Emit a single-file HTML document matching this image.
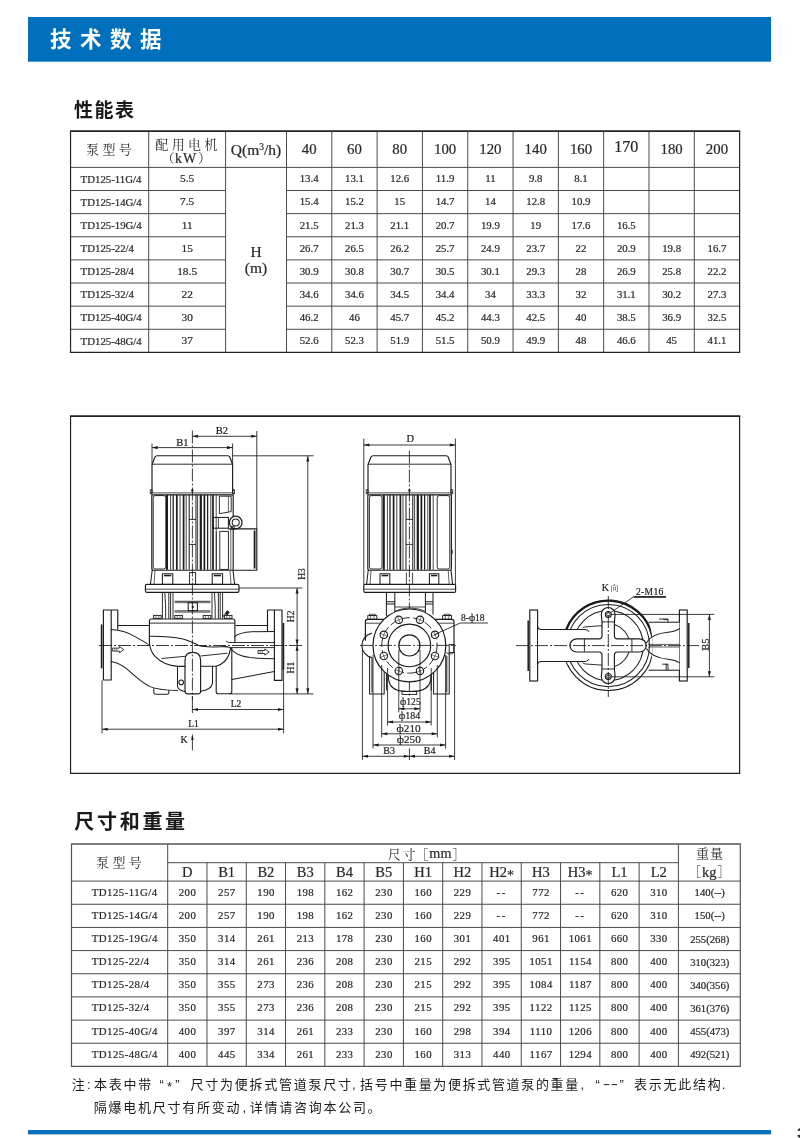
<!DOCTYPE html>
<html lang="zh"><head><meta charset="utf-8"><title>技术数据</title>
<style>
html,body{margin:0;padding:0;background:#fff;}
body{width:800px;height:1138px;overflow:hidden;font-family:"Liberation Serif","Noto Serif CJK SC",serif;}
svg{display:block;will-change:transform;}
</style></head><body>
<svg width="800" height="1138" viewBox="0 0 800 1138">
<rect width="800" height="1138" fill="#fff"/>
<rect x="28" y="17" width="743" height="44.7" fill="#0070bd"/>
<text x="50.00" y="47.20" font-size="21.50" text-anchor="start" fill="#fff" font-family="'Liberation Sans', 'Noto Sans CJK SC', sans-serif" font-weight="bold" letter-spacing="8.5">技术数据</text>
<rect x="28" y="1130" width="743" height="4.4" fill="#0a6fbc"/>
<text x="797.30" y="1137.60" font-size="15.00" text-anchor="start" fill="#222" stroke="#222" stroke-width="0.22" font-family="'Liberation Sans', serif" font-weight="bold">3</text>
<text x="74.00" y="117.00" font-size="19.00" text-anchor="start" fill="#1a1a1a" font-family="'Liberation Sans', 'Noto Sans CJK SC', sans-serif" font-weight="bold" letter-spacing="1.5">性能表</text>
<text x="74.30" y="829.00" font-size="20.00" text-anchor="start" fill="#1a1a1a" font-family="'Liberation Sans', 'Noto Sans CJK SC', sans-serif" font-weight="bold" letter-spacing="2.7">尺寸和重量</text>
<line x1="70.55" y1="167.40" x2="739.60" y2="167.40" stroke="#4a4a4a" stroke-width="1.00"/>
<line x1="70.55" y1="190.53" x2="225.60" y2="190.53" stroke="#4a4a4a" stroke-width="1.00"/>
<line x1="286.50" y1="190.53" x2="739.60" y2="190.53" stroke="#4a4a4a" stroke-width="1.00"/>
<line x1="70.55" y1="213.65" x2="225.60" y2="213.65" stroke="#4a4a4a" stroke-width="1.00"/>
<line x1="286.50" y1="213.65" x2="739.60" y2="213.65" stroke="#4a4a4a" stroke-width="1.00"/>
<line x1="70.55" y1="236.78" x2="225.60" y2="236.78" stroke="#4a4a4a" stroke-width="1.00"/>
<line x1="286.50" y1="236.78" x2="739.60" y2="236.78" stroke="#4a4a4a" stroke-width="1.00"/>
<line x1="70.55" y1="259.90" x2="225.60" y2="259.90" stroke="#4a4a4a" stroke-width="1.00"/>
<line x1="286.50" y1="259.90" x2="739.60" y2="259.90" stroke="#4a4a4a" stroke-width="1.00"/>
<line x1="70.55" y1="283.02" x2="225.60" y2="283.02" stroke="#4a4a4a" stroke-width="1.00"/>
<line x1="286.50" y1="283.02" x2="739.60" y2="283.02" stroke="#4a4a4a" stroke-width="1.00"/>
<line x1="70.55" y1="306.15" x2="225.60" y2="306.15" stroke="#4a4a4a" stroke-width="1.00"/>
<line x1="286.50" y1="306.15" x2="739.60" y2="306.15" stroke="#4a4a4a" stroke-width="1.00"/>
<line x1="70.55" y1="329.27" x2="225.60" y2="329.27" stroke="#4a4a4a" stroke-width="1.00"/>
<line x1="286.50" y1="329.27" x2="739.60" y2="329.27" stroke="#4a4a4a" stroke-width="1.00"/>
<line x1="148.70" y1="131.10" x2="148.70" y2="352.40" stroke="#4a4a4a" stroke-width="1.00"/>
<line x1="225.60" y1="131.10" x2="225.60" y2="352.40" stroke="#4a4a4a" stroke-width="1.00"/>
<line x1="286.50" y1="131.10" x2="286.50" y2="352.40" stroke="#4a4a4a" stroke-width="1.00"/>
<line x1="331.81" y1="131.10" x2="331.81" y2="352.40" stroke="#4a4a4a" stroke-width="1.00"/>
<line x1="377.12" y1="131.10" x2="377.12" y2="352.40" stroke="#4a4a4a" stroke-width="1.00"/>
<line x1="422.43" y1="131.10" x2="422.43" y2="352.40" stroke="#4a4a4a" stroke-width="1.00"/>
<line x1="467.74" y1="131.10" x2="467.74" y2="352.40" stroke="#4a4a4a" stroke-width="1.00"/>
<line x1="513.05" y1="131.10" x2="513.05" y2="352.40" stroke="#4a4a4a" stroke-width="1.00"/>
<line x1="558.36" y1="131.10" x2="558.36" y2="352.40" stroke="#4a4a4a" stroke-width="1.00"/>
<line x1="603.67" y1="131.10" x2="603.67" y2="352.40" stroke="#4a4a4a" stroke-width="1.00"/>
<line x1="648.98" y1="131.10" x2="648.98" y2="352.40" stroke="#4a4a4a" stroke-width="1.00"/>
<line x1="694.29" y1="131.10" x2="694.29" y2="352.40" stroke="#4a4a4a" stroke-width="1.00"/>
<line x1="69.95" y1="131.10" x2="740.20" y2="131.10" stroke="#262626" stroke-width="1.60"/>
<line x1="69.95" y1="352.40" x2="740.20" y2="352.40" stroke="#262626" stroke-width="1.25"/>
<line x1="70.55" y1="131.10" x2="70.55" y2="352.40" stroke="#262626" stroke-width="1.20"/>
<line x1="739.60" y1="131.10" x2="739.60" y2="352.40" stroke="#262626" stroke-width="1.20"/>
<text x="86.00" y="154.30" font-size="13.00" text-anchor="start" fill="#2a2a2a" font-family="'Liberation Serif', 'Noto Serif CJK SC', serif" letter-spacing="3.4">泵型号</text>
<text x="155.30" y="148.70" font-size="13.00" text-anchor="start" fill="#2a2a2a" font-family="'Liberation Serif', 'Noto Serif CJK SC', serif" letter-spacing="3.4">配用电机</text>
<text x="174.50" y="162.60" font-size="13.00" text-anchor="end" fill="#2a2a2a" font-family="'Liberation Serif', 'Noto Serif CJK SC', serif">（</text>
<text x="198.00" y="162.60" font-size="13.00" text-anchor="start" fill="#2a2a2a" font-family="'Liberation Serif', 'Noto Serif CJK SC', serif">）</text>
<text x="186.20" y="163.30" font-size="14.00" text-anchor="middle" fill="#2a2a2a" stroke="#2a2a2a" stroke-width="0.22" font-family="'Liberation Serif', serif" letter-spacing="1.2">kW</text>
<text x="256.05" y="154.60" font-size="15.5" text-anchor="middle" fill="#2a2a2a" stroke="#2a2a2a" stroke-width="0.22" font-family="'Liberation Serif', serif">Q(m<tspan font-size="9.5" dy="-5">3</tspan><tspan dy="5">/h)</tspan></text>
<text x="309.15" y="153.88" font-size="14.80" text-anchor="middle" fill="#2a2a2a" stroke="#2a2a2a" stroke-width="0.22" font-family="'Liberation Serif', serif">40</text>
<text x="354.47" y="153.88" font-size="14.80" text-anchor="middle" fill="#2a2a2a" stroke="#2a2a2a" stroke-width="0.22" font-family="'Liberation Serif', serif">60</text>
<text x="399.77" y="153.88" font-size="14.80" text-anchor="middle" fill="#2a2a2a" stroke="#2a2a2a" stroke-width="0.22" font-family="'Liberation Serif', serif">80</text>
<text x="445.09" y="153.88" font-size="14.80" text-anchor="middle" fill="#2a2a2a" stroke="#2a2a2a" stroke-width="0.22" font-family="'Liberation Serif', serif">100</text>
<text x="490.39" y="153.88" font-size="14.80" text-anchor="middle" fill="#2a2a2a" stroke="#2a2a2a" stroke-width="0.22" font-family="'Liberation Serif', serif">120</text>
<text x="535.70" y="153.88" font-size="14.80" text-anchor="middle" fill="#2a2a2a" stroke="#2a2a2a" stroke-width="0.22" font-family="'Liberation Serif', serif">140</text>
<text x="581.02" y="153.88" font-size="14.80" text-anchor="middle" fill="#2a2a2a" stroke="#2a2a2a" stroke-width="0.22" font-family="'Liberation Serif', serif">160</text>
<text x="626.33" y="151.88" font-size="16.00" text-anchor="middle" fill="#2a2a2a" stroke="#2a2a2a" stroke-width="0.22" font-family="'Liberation Serif', serif">170</text>
<text x="671.63" y="153.88" font-size="14.80" text-anchor="middle" fill="#2a2a2a" stroke="#2a2a2a" stroke-width="0.22" font-family="'Liberation Serif', serif">180</text>
<text x="716.94" y="153.88" font-size="14.80" text-anchor="middle" fill="#2a2a2a" stroke="#2a2a2a" stroke-width="0.22" font-family="'Liberation Serif', serif">200</text>
<text x="256.05" y="257.31" font-size="15.50" text-anchor="middle" fill="#2a2a2a" stroke="#2a2a2a" stroke-width="0.22" font-family="'Liberation Serif', serif">H</text>
<text x="256.05" y="272.72" font-size="15.50" text-anchor="middle" fill="#2a2a2a" stroke="#2a2a2a" stroke-width="0.22" font-family="'Liberation Serif', serif">(m)</text>
<text x="80.60" y="182.73" font-size="10.80" text-anchor="start" fill="#2a2a2a" stroke="#2a2a2a" stroke-width="0.22" font-family="'Liberation Serif', serif">TD125-11G/4</text>
<text x="187.15" y="182.32" font-size="11.40" text-anchor="middle" fill="#2a2a2a" stroke="#2a2a2a" stroke-width="0.22" font-family="'Liberation Serif', serif">5.5</text>
<text x="309.15" y="182.33" font-size="10.80" text-anchor="middle" fill="#2a2a2a" stroke="#2a2a2a" stroke-width="0.22" font-family="'Liberation Serif', serif">13.4</text>
<text x="354.47" y="182.33" font-size="10.80" text-anchor="middle" fill="#2a2a2a" stroke="#2a2a2a" stroke-width="0.22" font-family="'Liberation Serif', serif">13.1</text>
<text x="399.77" y="182.33" font-size="10.80" text-anchor="middle" fill="#2a2a2a" stroke="#2a2a2a" stroke-width="0.22" font-family="'Liberation Serif', serif">12.6</text>
<text x="445.09" y="182.33" font-size="10.80" text-anchor="middle" fill="#2a2a2a" stroke="#2a2a2a" stroke-width="0.22" font-family="'Liberation Serif', serif">11.9</text>
<text x="490.39" y="182.33" font-size="10.80" text-anchor="middle" fill="#2a2a2a" stroke="#2a2a2a" stroke-width="0.22" font-family="'Liberation Serif', serif">11</text>
<text x="535.70" y="182.33" font-size="10.80" text-anchor="middle" fill="#2a2a2a" stroke="#2a2a2a" stroke-width="0.22" font-family="'Liberation Serif', serif">9.8</text>
<text x="581.02" y="182.33" font-size="10.80" text-anchor="middle" fill="#2a2a2a" stroke="#2a2a2a" stroke-width="0.22" font-family="'Liberation Serif', serif">8.1</text>
<text x="80.60" y="205.85" font-size="10.80" text-anchor="start" fill="#2a2a2a" stroke="#2a2a2a" stroke-width="0.22" font-family="'Liberation Serif', serif">TD125-14G/4</text>
<text x="187.15" y="205.45" font-size="11.40" text-anchor="middle" fill="#2a2a2a" stroke="#2a2a2a" stroke-width="0.22" font-family="'Liberation Serif', serif">7.5</text>
<text x="309.15" y="205.45" font-size="10.80" text-anchor="middle" fill="#2a2a2a" stroke="#2a2a2a" stroke-width="0.22" font-family="'Liberation Serif', serif">15.4</text>
<text x="354.47" y="205.45" font-size="10.80" text-anchor="middle" fill="#2a2a2a" stroke="#2a2a2a" stroke-width="0.22" font-family="'Liberation Serif', serif">15.2</text>
<text x="399.77" y="205.45" font-size="10.80" text-anchor="middle" fill="#2a2a2a" stroke="#2a2a2a" stroke-width="0.22" font-family="'Liberation Serif', serif">15</text>
<text x="445.09" y="205.45" font-size="10.80" text-anchor="middle" fill="#2a2a2a" stroke="#2a2a2a" stroke-width="0.22" font-family="'Liberation Serif', serif">14.7</text>
<text x="490.39" y="205.45" font-size="10.80" text-anchor="middle" fill="#2a2a2a" stroke="#2a2a2a" stroke-width="0.22" font-family="'Liberation Serif', serif">14</text>
<text x="535.70" y="205.45" font-size="10.80" text-anchor="middle" fill="#2a2a2a" stroke="#2a2a2a" stroke-width="0.22" font-family="'Liberation Serif', serif">12.8</text>
<text x="581.02" y="205.45" font-size="10.80" text-anchor="middle" fill="#2a2a2a" stroke="#2a2a2a" stroke-width="0.22" font-family="'Liberation Serif', serif">10.9</text>
<text x="80.60" y="228.98" font-size="10.80" text-anchor="start" fill="#2a2a2a" stroke="#2a2a2a" stroke-width="0.22" font-family="'Liberation Serif', serif">TD125-19G/4</text>
<text x="187.15" y="228.57" font-size="11.40" text-anchor="middle" fill="#2a2a2a" stroke="#2a2a2a" stroke-width="0.22" font-family="'Liberation Serif', serif">11</text>
<text x="309.15" y="228.58" font-size="10.80" text-anchor="middle" fill="#2a2a2a" stroke="#2a2a2a" stroke-width="0.22" font-family="'Liberation Serif', serif">21.5</text>
<text x="354.47" y="228.58" font-size="10.80" text-anchor="middle" fill="#2a2a2a" stroke="#2a2a2a" stroke-width="0.22" font-family="'Liberation Serif', serif">21.3</text>
<text x="399.77" y="228.58" font-size="10.80" text-anchor="middle" fill="#2a2a2a" stroke="#2a2a2a" stroke-width="0.22" font-family="'Liberation Serif', serif">21.1</text>
<text x="445.09" y="228.58" font-size="10.80" text-anchor="middle" fill="#2a2a2a" stroke="#2a2a2a" stroke-width="0.22" font-family="'Liberation Serif', serif">20.7</text>
<text x="490.39" y="228.58" font-size="10.80" text-anchor="middle" fill="#2a2a2a" stroke="#2a2a2a" stroke-width="0.22" font-family="'Liberation Serif', serif">19.9</text>
<text x="535.70" y="228.58" font-size="10.80" text-anchor="middle" fill="#2a2a2a" stroke="#2a2a2a" stroke-width="0.22" font-family="'Liberation Serif', serif">19</text>
<text x="581.02" y="228.58" font-size="10.80" text-anchor="middle" fill="#2a2a2a" stroke="#2a2a2a" stroke-width="0.22" font-family="'Liberation Serif', serif">17.6</text>
<text x="626.33" y="228.58" font-size="10.80" text-anchor="middle" fill="#2a2a2a" stroke="#2a2a2a" stroke-width="0.22" font-family="'Liberation Serif', serif">16.5</text>
<text x="80.60" y="252.10" font-size="10.80" text-anchor="start" fill="#2a2a2a" stroke="#2a2a2a" stroke-width="0.22" font-family="'Liberation Serif', serif">TD125-22/4</text>
<text x="187.15" y="251.70" font-size="11.40" text-anchor="middle" fill="#2a2a2a" stroke="#2a2a2a" stroke-width="0.22" font-family="'Liberation Serif', serif">15</text>
<text x="309.15" y="251.70" font-size="10.80" text-anchor="middle" fill="#2a2a2a" stroke="#2a2a2a" stroke-width="0.22" font-family="'Liberation Serif', serif">26.7</text>
<text x="354.47" y="251.70" font-size="10.80" text-anchor="middle" fill="#2a2a2a" stroke="#2a2a2a" stroke-width="0.22" font-family="'Liberation Serif', serif">26.5</text>
<text x="399.77" y="251.70" font-size="10.80" text-anchor="middle" fill="#2a2a2a" stroke="#2a2a2a" stroke-width="0.22" font-family="'Liberation Serif', serif">26.2</text>
<text x="445.09" y="251.70" font-size="10.80" text-anchor="middle" fill="#2a2a2a" stroke="#2a2a2a" stroke-width="0.22" font-family="'Liberation Serif', serif">25.7</text>
<text x="490.39" y="251.70" font-size="10.80" text-anchor="middle" fill="#2a2a2a" stroke="#2a2a2a" stroke-width="0.22" font-family="'Liberation Serif', serif">24.9</text>
<text x="535.70" y="251.70" font-size="10.80" text-anchor="middle" fill="#2a2a2a" stroke="#2a2a2a" stroke-width="0.22" font-family="'Liberation Serif', serif">23.7</text>
<text x="581.02" y="251.70" font-size="10.80" text-anchor="middle" fill="#2a2a2a" stroke="#2a2a2a" stroke-width="0.22" font-family="'Liberation Serif', serif">22</text>
<text x="626.33" y="251.70" font-size="10.80" text-anchor="middle" fill="#2a2a2a" stroke="#2a2a2a" stroke-width="0.22" font-family="'Liberation Serif', serif">20.9</text>
<text x="671.63" y="251.70" font-size="10.80" text-anchor="middle" fill="#2a2a2a" stroke="#2a2a2a" stroke-width="0.22" font-family="'Liberation Serif', serif">19.8</text>
<text x="716.94" y="251.70" font-size="10.80" text-anchor="middle" fill="#2a2a2a" stroke="#2a2a2a" stroke-width="0.22" font-family="'Liberation Serif', serif">16.7</text>
<text x="80.60" y="275.23" font-size="10.80" text-anchor="start" fill="#2a2a2a" stroke="#2a2a2a" stroke-width="0.22" font-family="'Liberation Serif', serif">TD125-28/4</text>
<text x="187.15" y="274.82" font-size="11.40" text-anchor="middle" fill="#2a2a2a" stroke="#2a2a2a" stroke-width="0.22" font-family="'Liberation Serif', serif">18.5</text>
<text x="309.15" y="274.83" font-size="10.80" text-anchor="middle" fill="#2a2a2a" stroke="#2a2a2a" stroke-width="0.22" font-family="'Liberation Serif', serif">30.9</text>
<text x="354.47" y="274.83" font-size="10.80" text-anchor="middle" fill="#2a2a2a" stroke="#2a2a2a" stroke-width="0.22" font-family="'Liberation Serif', serif">30.8</text>
<text x="399.77" y="274.83" font-size="10.80" text-anchor="middle" fill="#2a2a2a" stroke="#2a2a2a" stroke-width="0.22" font-family="'Liberation Serif', serif">30.7</text>
<text x="445.09" y="274.83" font-size="10.80" text-anchor="middle" fill="#2a2a2a" stroke="#2a2a2a" stroke-width="0.22" font-family="'Liberation Serif', serif">30.5</text>
<text x="490.39" y="274.83" font-size="10.80" text-anchor="middle" fill="#2a2a2a" stroke="#2a2a2a" stroke-width="0.22" font-family="'Liberation Serif', serif">30.1</text>
<text x="535.70" y="274.83" font-size="10.80" text-anchor="middle" fill="#2a2a2a" stroke="#2a2a2a" stroke-width="0.22" font-family="'Liberation Serif', serif">29.3</text>
<text x="581.02" y="274.83" font-size="10.80" text-anchor="middle" fill="#2a2a2a" stroke="#2a2a2a" stroke-width="0.22" font-family="'Liberation Serif', serif">28</text>
<text x="626.33" y="274.83" font-size="10.80" text-anchor="middle" fill="#2a2a2a" stroke="#2a2a2a" stroke-width="0.22" font-family="'Liberation Serif', serif">26.9</text>
<text x="671.63" y="274.83" font-size="10.80" text-anchor="middle" fill="#2a2a2a" stroke="#2a2a2a" stroke-width="0.22" font-family="'Liberation Serif', serif">25.8</text>
<text x="716.94" y="274.83" font-size="10.80" text-anchor="middle" fill="#2a2a2a" stroke="#2a2a2a" stroke-width="0.22" font-family="'Liberation Serif', serif">22.2</text>
<text x="80.60" y="298.35" font-size="10.80" text-anchor="start" fill="#2a2a2a" stroke="#2a2a2a" stroke-width="0.22" font-family="'Liberation Serif', serif">TD125-32/4</text>
<text x="187.15" y="297.95" font-size="11.40" text-anchor="middle" fill="#2a2a2a" stroke="#2a2a2a" stroke-width="0.22" font-family="'Liberation Serif', serif">22</text>
<text x="309.15" y="297.95" font-size="10.80" text-anchor="middle" fill="#2a2a2a" stroke="#2a2a2a" stroke-width="0.22" font-family="'Liberation Serif', serif">34.6</text>
<text x="354.47" y="297.95" font-size="10.80" text-anchor="middle" fill="#2a2a2a" stroke="#2a2a2a" stroke-width="0.22" font-family="'Liberation Serif', serif">34.6</text>
<text x="399.77" y="297.95" font-size="10.80" text-anchor="middle" fill="#2a2a2a" stroke="#2a2a2a" stroke-width="0.22" font-family="'Liberation Serif', serif">34.5</text>
<text x="445.09" y="297.95" font-size="10.80" text-anchor="middle" fill="#2a2a2a" stroke="#2a2a2a" stroke-width="0.22" font-family="'Liberation Serif', serif">34.4</text>
<text x="490.39" y="297.95" font-size="10.80" text-anchor="middle" fill="#2a2a2a" stroke="#2a2a2a" stroke-width="0.22" font-family="'Liberation Serif', serif">34</text>
<text x="535.70" y="297.95" font-size="10.80" text-anchor="middle" fill="#2a2a2a" stroke="#2a2a2a" stroke-width="0.22" font-family="'Liberation Serif', serif">33.3</text>
<text x="581.02" y="297.95" font-size="10.80" text-anchor="middle" fill="#2a2a2a" stroke="#2a2a2a" stroke-width="0.22" font-family="'Liberation Serif', serif">32</text>
<text x="626.33" y="297.95" font-size="10.80" text-anchor="middle" fill="#2a2a2a" stroke="#2a2a2a" stroke-width="0.22" font-family="'Liberation Serif', serif">31.1</text>
<text x="671.63" y="297.95" font-size="10.80" text-anchor="middle" fill="#2a2a2a" stroke="#2a2a2a" stroke-width="0.22" font-family="'Liberation Serif', serif">30.2</text>
<text x="716.94" y="297.95" font-size="10.80" text-anchor="middle" fill="#2a2a2a" stroke="#2a2a2a" stroke-width="0.22" font-family="'Liberation Serif', serif">27.3</text>
<text x="80.60" y="321.48" font-size="10.80" text-anchor="start" fill="#2a2a2a" stroke="#2a2a2a" stroke-width="0.22" font-family="'Liberation Serif', serif">TD125-40G/4</text>
<text x="187.15" y="321.07" font-size="11.40" text-anchor="middle" fill="#2a2a2a" stroke="#2a2a2a" stroke-width="0.22" font-family="'Liberation Serif', serif">30</text>
<text x="309.15" y="321.08" font-size="10.80" text-anchor="middle" fill="#2a2a2a" stroke="#2a2a2a" stroke-width="0.22" font-family="'Liberation Serif', serif">46.2</text>
<text x="354.47" y="321.08" font-size="10.80" text-anchor="middle" fill="#2a2a2a" stroke="#2a2a2a" stroke-width="0.22" font-family="'Liberation Serif', serif">46</text>
<text x="399.77" y="321.08" font-size="10.80" text-anchor="middle" fill="#2a2a2a" stroke="#2a2a2a" stroke-width="0.22" font-family="'Liberation Serif', serif">45.7</text>
<text x="445.09" y="321.08" font-size="10.80" text-anchor="middle" fill="#2a2a2a" stroke="#2a2a2a" stroke-width="0.22" font-family="'Liberation Serif', serif">45.2</text>
<text x="490.39" y="321.08" font-size="10.80" text-anchor="middle" fill="#2a2a2a" stroke="#2a2a2a" stroke-width="0.22" font-family="'Liberation Serif', serif">44.3</text>
<text x="535.70" y="321.08" font-size="10.80" text-anchor="middle" fill="#2a2a2a" stroke="#2a2a2a" stroke-width="0.22" font-family="'Liberation Serif', serif">42.5</text>
<text x="581.02" y="321.08" font-size="10.80" text-anchor="middle" fill="#2a2a2a" stroke="#2a2a2a" stroke-width="0.22" font-family="'Liberation Serif', serif">40</text>
<text x="626.33" y="321.08" font-size="10.80" text-anchor="middle" fill="#2a2a2a" stroke="#2a2a2a" stroke-width="0.22" font-family="'Liberation Serif', serif">38.5</text>
<text x="671.63" y="321.08" font-size="10.80" text-anchor="middle" fill="#2a2a2a" stroke="#2a2a2a" stroke-width="0.22" font-family="'Liberation Serif', serif">36.9</text>
<text x="716.94" y="321.08" font-size="10.80" text-anchor="middle" fill="#2a2a2a" stroke="#2a2a2a" stroke-width="0.22" font-family="'Liberation Serif', serif">32.5</text>
<text x="80.60" y="344.60" font-size="10.80" text-anchor="start" fill="#2a2a2a" stroke="#2a2a2a" stroke-width="0.22" font-family="'Liberation Serif', serif">TD125-48G/4</text>
<text x="187.15" y="344.20" font-size="11.40" text-anchor="middle" fill="#2a2a2a" stroke="#2a2a2a" stroke-width="0.22" font-family="'Liberation Serif', serif">37</text>
<text x="309.15" y="344.20" font-size="10.80" text-anchor="middle" fill="#2a2a2a" stroke="#2a2a2a" stroke-width="0.22" font-family="'Liberation Serif', serif">52.6</text>
<text x="354.47" y="344.20" font-size="10.80" text-anchor="middle" fill="#2a2a2a" stroke="#2a2a2a" stroke-width="0.22" font-family="'Liberation Serif', serif">52.3</text>
<text x="399.77" y="344.20" font-size="10.80" text-anchor="middle" fill="#2a2a2a" stroke="#2a2a2a" stroke-width="0.22" font-family="'Liberation Serif', serif">51.9</text>
<text x="445.09" y="344.20" font-size="10.80" text-anchor="middle" fill="#2a2a2a" stroke="#2a2a2a" stroke-width="0.22" font-family="'Liberation Serif', serif">51.5</text>
<text x="490.39" y="344.20" font-size="10.80" text-anchor="middle" fill="#2a2a2a" stroke="#2a2a2a" stroke-width="0.22" font-family="'Liberation Serif', serif">50.9</text>
<text x="535.70" y="344.20" font-size="10.80" text-anchor="middle" fill="#2a2a2a" stroke="#2a2a2a" stroke-width="0.22" font-family="'Liberation Serif', serif">49.9</text>
<text x="581.02" y="344.20" font-size="10.80" text-anchor="middle" fill="#2a2a2a" stroke="#2a2a2a" stroke-width="0.22" font-family="'Liberation Serif', serif">48</text>
<text x="626.33" y="344.20" font-size="10.80" text-anchor="middle" fill="#2a2a2a" stroke="#2a2a2a" stroke-width="0.22" font-family="'Liberation Serif', serif">46.6</text>
<text x="671.63" y="344.20" font-size="10.80" text-anchor="middle" fill="#2a2a2a" stroke="#2a2a2a" stroke-width="0.22" font-family="'Liberation Serif', serif">45</text>
<text x="716.94" y="344.20" font-size="10.80" text-anchor="middle" fill="#2a2a2a" stroke="#2a2a2a" stroke-width="0.22" font-family="'Liberation Serif', serif">41.1</text>
<line x1="69.95" y1="416.10" x2="740.20" y2="416.10" stroke="#222" stroke-width="1.60"/>
<line x1="69.95" y1="773.40" x2="740.20" y2="773.40" stroke="#222" stroke-width="1.25"/>
<line x1="70.55" y1="416.10" x2="70.55" y2="773.40" stroke="#222" stroke-width="1.20"/>
<line x1="739.60" y1="416.10" x2="739.60" y2="773.40" stroke="#222" stroke-width="1.20"/>
<line x1="152.00" y1="443.50" x2="152.00" y2="464.00" stroke="#1c1c1c" stroke-width="0.86"/>
<line x1="232.60" y1="443.50" x2="232.60" y2="464.00" stroke="#1c1c1c" stroke-width="0.86"/>
<line x1="152.00" y1="447.60" x2="232.60" y2="447.60" stroke="#1c1c1c" stroke-width="0.86"/>
<path d="M152.00 447.60L157.60 446.05L157.60 449.15Z" fill="#1c1c1c"/>
<path d="M232.60 447.60L227.00 449.15L227.00 446.05Z" fill="#1c1c1c"/>
<text x="182.50" y="445.60" font-size="10.50" text-anchor="middle" fill="#1c1c1c" stroke="#1c1c1c" stroke-width="0.2" font-family="'Liberation Serif', serif">B1</text>
<line x1="256.80" y1="431.00" x2="256.80" y2="529.00" stroke="#1c1c1c" stroke-width="0.86"/>
<line x1="192.40" y1="436.30" x2="256.80" y2="436.30" stroke="#1c1c1c" stroke-width="0.86"/>
<path d="M192.40 436.30L198.00 434.75L198.00 437.85Z" fill="#1c1c1c"/>
<path d="M256.80 436.30L251.20 437.85L251.20 434.75Z" fill="#1c1c1c"/>
<text x="221.80" y="433.80" font-size="10.50" text-anchor="middle" fill="#1c1c1c" stroke="#1c1c1c" stroke-width="0.2" font-family="'Liberation Serif', serif">B2</text>
<line x1="192.40" y1="430.50" x2="192.40" y2="700.00" stroke="#1c1c1c" stroke-width="0.86" stroke-dasharray="13 2 2 2"/>
<path d="M152 492.6V465.0Q152 464.2 152.5 463.2L155.0 457Q155.6 455.7 157 455.7H227.8Q229.2 455.7 229.8 457L232.1 463.2Q232.6 464.2 232.6 465.0V492.6" fill="none" stroke="#1c1c1c" stroke-width="1.15" stroke-linejoin="round" stroke-linecap="round"/>
<line x1="152.00" y1="464.20" x2="232.60" y2="464.20" stroke="#1c1c1c" stroke-width="0.92"/>
<rect x="150.20" y="489.80" width="1.80" height="4.00" rx="0.00" fill="none" stroke="#1c1c1c" stroke-width="0.80"/>
<rect x="232.60" y="489.80" width="1.80" height="4.00" rx="0.00" fill="none" stroke="#1c1c1c" stroke-width="0.80"/>
<line x1="150.40" y1="492.90" x2="234.40" y2="492.90" stroke="#1c1c1c" stroke-width="0.80"/>
<circle cx="192.40" cy="490.40" r="1.00" fill="#1c1c1c" stroke="#1c1c1c" stroke-width="0.57"/>
<path d="M151.8 494.8H233.2M151.8 494.8V568.2Q151.8 570.2 153.8 570.2H231.4Q233.2 570.2 233.2 568.4V494.8" fill="none" stroke="#1c1c1c" stroke-width="1.15" stroke-linejoin="round" stroke-linecap="round"/>
<rect x="153.20" y="495.60" width="12.60" height="73.40" rx="2.20" fill="none" stroke="#1c1c1c" stroke-width="0.92"/>
<line x1="167.00" y1="494.80" x2="167.00" y2="569.80" stroke="#1c1c1c" stroke-width="2.07"/>
<line x1="170.60" y1="494.80" x2="170.60" y2="569.80" stroke="#1c1c1c" stroke-width="0.80"/>
<line x1="173.20" y1="494.80" x2="173.20" y2="569.80" stroke="#1c1c1c" stroke-width="1.26"/>
<line x1="176.80" y1="494.80" x2="176.80" y2="569.80" stroke="#1c1c1c" stroke-width="1.72"/>
<line x1="180.00" y1="494.80" x2="180.00" y2="569.80" stroke="#1c1c1c" stroke-width="0.80"/>
<line x1="183.60" y1="494.80" x2="183.60" y2="569.80" stroke="#1c1c1c" stroke-width="1.72"/>
<line x1="186.20" y1="494.80" x2="186.20" y2="569.80" stroke="#1c1c1c" stroke-width="0.80"/>
<line x1="197.60" y1="494.80" x2="197.60" y2="569.80" stroke="#1c1c1c" stroke-width="0.80"/>
<line x1="200.80" y1="494.80" x2="200.80" y2="569.80" stroke="#1c1c1c" stroke-width="2.18"/>
<line x1="204.40" y1="494.80" x2="204.40" y2="569.80" stroke="#1c1c1c" stroke-width="1.72"/>
<line x1="207.60" y1="494.80" x2="207.60" y2="569.80" stroke="#1c1c1c" stroke-width="1.26"/>
<line x1="210.80" y1="494.80" x2="210.80" y2="569.80" stroke="#1c1c1c" stroke-width="0.80"/>
<line x1="213.00" y1="494.80" x2="213.00" y2="569.80" stroke="#1c1c1c" stroke-width="1.72"/>
<line x1="216.20" y1="494.80" x2="216.20" y2="569.80" stroke="#1c1c1c" stroke-width="0.80"/>
<line x1="189.20" y1="494.80" x2="189.20" y2="569.80" stroke="#1c1c1c" stroke-width="1.03"/>
<line x1="196.00" y1="494.80" x2="196.00" y2="569.80" stroke="#1c1c1c" stroke-width="1.03"/>
<line x1="189.20" y1="519.40" x2="196.00" y2="519.40" stroke="#1c1c1c" stroke-width="0.92"/>
<line x1="189.20" y1="544.40" x2="196.00" y2="544.40" stroke="#1c1c1c" stroke-width="0.92"/>
<path d="M219.8 496.2H231.2V511.6L219.8 513.6Z" fill="none" stroke="#1c1c1c" stroke-width="0.92" stroke-linejoin="round" stroke-linecap="round"/>
<line x1="228.40" y1="496.20" x2="228.40" y2="512.00" stroke="#1c1c1c" stroke-width="0.69"/>
<rect x="213.20" y="517.40" width="15.20" height="10.80" rx="0.00" fill="none" stroke="#1c1c1c" stroke-width="1.03"/>
<line x1="218.40" y1="517.40" x2="218.40" y2="528.20" stroke="#1c1c1c" stroke-width="0.80"/>
<rect x="219.80" y="531.40" width="8.60" height="38.00" rx="0.00" fill="none" stroke="#1c1c1c" stroke-width="0.92"/>
<line x1="216.40" y1="531.40" x2="216.40" y2="569.80" stroke="#1c1c1c" stroke-width="0.69"/>
<circle cx="235.70" cy="522.50" r="6.30" fill="#fff" stroke="#1c1c1c" stroke-width="1.26"/>
<circle cx="235.70" cy="522.50" r="3.50" fill="none" stroke="#1c1c1c" stroke-width="1.03"/>
<rect x="231.20" y="526.60" width="3.00" height="2.60" rx="0.00" fill="none" stroke="#1c1c1c" stroke-width="0.69"/>
<path d="M228.6 528.9H256.8V570.2H233.2" fill="none" stroke="#1c1c1c" stroke-width="1.15" stroke-linejoin="round" stroke-linecap="round"/>
<line x1="254.60" y1="530.50" x2="254.60" y2="568.60" stroke="#1c1c1c" stroke-width="1.84"/>
<line x1="230.80" y1="529.00" x2="230.80" y2="570.00" stroke="#1c1c1c" stroke-width="0.69"/>
<path d="M152.2 570.2L150.4 584.4M233 570.2L234.6 584.4" fill="none" stroke="#1c1c1c" stroke-width="1.03" stroke-linejoin="round" stroke-linecap="round"/>
<line x1="155.00" y1="570.40" x2="154.00" y2="584.20" stroke="#1c1c1c" stroke-width="0.69"/>
<line x1="230.00" y1="570.40" x2="231.00" y2="584.20" stroke="#1c1c1c" stroke-width="0.69"/>
<rect x="162.40" y="573.80" width="10.40" height="10.60" rx="0.00" fill="none" stroke="#1c1c1c" stroke-width="1.03"/>
<line x1="164.00" y1="575.60" x2="171.20" y2="575.60" stroke="#1c1c1c" stroke-width="1.49"/>
<rect x="212.20" y="573.80" width="10.40" height="10.60" rx="0.00" fill="none" stroke="#1c1c1c" stroke-width="1.03"/>
<line x1="213.80" y1="575.60" x2="221.00" y2="575.60" stroke="#1c1c1c" stroke-width="1.49"/>
<rect x="189.40" y="572.60" width="6.20" height="11.80" rx="0.00" fill="none" stroke="#1c1c1c" stroke-width="0.92"/>
<rect x="145.40" y="584.40" width="93.60" height="8.00" rx="1.60" fill="none" stroke="#1c1c1c" stroke-width="1.15"/>
<line x1="145.60" y1="589.20" x2="238.80" y2="589.20" stroke="#1c1c1c" stroke-width="0.80"/>
<path d="M162.4 592.4V618.4M164.8 592.4L165.6 606L165.6 618.4M168.8 592.4V618.4M170.6 592.4V618.4M173.0 592.4V618.4" fill="none" stroke="#1c1c1c" stroke-width="0.92" stroke-linejoin="round" stroke-linecap="round"/>
<path d="M212.0 592.4V618.4M214.4 592.4L215.2 606L215.2 618.4M218.4 592.4V618.4M220.2 592.4V618.4M222.6 592.4V618.4" fill="none" stroke="#1c1c1c" stroke-width="0.92" stroke-linejoin="round" stroke-linecap="round"/>
<line x1="174.60" y1="601.30" x2="210.40" y2="601.30" stroke="#1c1c1c" stroke-width="0.92"/>
<line x1="174.60" y1="602.70" x2="210.40" y2="602.70" stroke="#1c1c1c" stroke-width="0.69"/>
<line x1="174.60" y1="610.70" x2="210.40" y2="610.70" stroke="#1c1c1c" stroke-width="0.69"/>
<line x1="174.60" y1="612.00" x2="210.40" y2="612.00" stroke="#1c1c1c" stroke-width="0.92"/>
<rect x="188.20" y="602.70" width="9.20" height="8.00" rx="0.00" fill="none" stroke="#1c1c1c" stroke-width="1.03"/>
<circle cx="192.80" cy="606.90" r="0.90" fill="#1c1c1c" stroke="#1c1c1c" stroke-width="0.57"/>
<path d="M225.2 613.4L227.4 610.8L229.2 612.2L227.2 615.0Z" fill="#1c1c1c" stroke="#1c1c1c" stroke-width="0.92" stroke-linejoin="round" stroke-linecap="round"/>
<line x1="224.40" y1="614.40" x2="222.60" y2="617.40" stroke="#1c1c1c" stroke-width="0.92"/>
<rect x="153.60" y="615.40" width="7.60" height="3.00" rx="0.00" fill="none" stroke="#1c1c1c" stroke-width="0.92"/>
<line x1="156.00" y1="615.40" x2="156.00" y2="618.40" stroke="#1c1c1c" stroke-width="0.57"/>
<line x1="158.80" y1="615.40" x2="158.80" y2="618.40" stroke="#1c1c1c" stroke-width="0.57"/>
<rect x="174.80" y="615.40" width="7.60" height="3.00" rx="0.00" fill="none" stroke="#1c1c1c" stroke-width="0.92"/>
<line x1="177.20" y1="615.40" x2="177.20" y2="618.40" stroke="#1c1c1c" stroke-width="0.57"/>
<line x1="180.00" y1="615.40" x2="180.00" y2="618.40" stroke="#1c1c1c" stroke-width="0.57"/>
<rect x="203.20" y="615.40" width="7.60" height="3.00" rx="0.00" fill="none" stroke="#1c1c1c" stroke-width="0.92"/>
<line x1="205.60" y1="615.40" x2="205.60" y2="618.40" stroke="#1c1c1c" stroke-width="0.57"/>
<line x1="208.40" y1="615.40" x2="208.40" y2="618.40" stroke="#1c1c1c" stroke-width="0.57"/>
<rect x="224.40" y="615.40" width="7.60" height="3.00" rx="0.00" fill="none" stroke="#1c1c1c" stroke-width="0.92"/>
<line x1="226.80" y1="615.40" x2="226.80" y2="618.40" stroke="#1c1c1c" stroke-width="0.57"/>
<line x1="229.60" y1="615.40" x2="229.60" y2="618.40" stroke="#1c1c1c" stroke-width="0.57"/>
<path d="M149.4 641.5V621.0Q149.4 619.0 151.6 619.0H232.8Q234.9 619.0 234.9 621.0V641.6" fill="none" stroke="#1c1c1c" stroke-width="1.15" stroke-linejoin="round" stroke-linecap="round"/>
<line x1="149.60" y1="623.10" x2="234.80" y2="623.10" stroke="#1c1c1c" stroke-width="0.92"/>
<path d="M103.4 610H117.8V629.2M111.2 610V680M103.4 610V680H111.2" fill="none" stroke="#1c1c1c" stroke-width="1.15" stroke-linejoin="round" stroke-linecap="round"/>
<line x1="101.60" y1="624.40" x2="101.60" y2="668.40" stroke="#1c1c1c" stroke-width="1.61"/>
<line x1="117.80" y1="625.60" x2="149.40" y2="625.60" stroke="#1c1c1c" stroke-width="1.03"/>
<path d="M111.2 629.6C121 630 128 632.5 135 636.6C141 640.2 146 642.6 149.4 645.2" fill="none" stroke="#1c1c1c" stroke-width="1.03" stroke-linejoin="round" stroke-linecap="round"/>
<path d="M111.2 661.6C119 663 124 666 130 671.6C137 678 143.5 683.4 150 686.6C156 689.2 166 690.2 177.5 690.6" fill="none" stroke="#1c1c1c" stroke-width="1.03" stroke-linejoin="round" stroke-linecap="round"/>
<path d="M149.4 641.5C149.6 648 151 652 155 656.4C160 661.6 168 665.6 177.5 666.4H185" fill="none" stroke="#1c1c1c" stroke-width="1.09" stroke-linejoin="round" stroke-linecap="round"/>
<path d="M200.6 666.3H216.2C222 664.6 227 660 229.2 654C230 651.4 230.4 649.4 230.5 647.6" fill="none" stroke="#1c1c1c" stroke-width="1.09" stroke-linejoin="round" stroke-linecap="round"/>
<line x1="161.40" y1="658.50" x2="185.00" y2="656.30" stroke="#1c1c1c" stroke-width="0.92"/>
<line x1="200.60" y1="656.00" x2="227.60" y2="653.20" stroke="#1c1c1c" stroke-width="0.92"/>
<path d="M149.6 636.3C160 636.2 174 637 183 639C190 640.6 194 643.4 199 645.6C203 647 212 647.2 220 646.8C224 646.6 227 646.2 229.6 647.4" fill="none" stroke="#1c1c1c" stroke-width="1.03" stroke-linejoin="round" stroke-linecap="round"/>
<path d="M226.2 641.2Q227.4 642.5 229.4 642.5H274.4" fill="none" stroke="#1c1c1c" stroke-width="0.92" stroke-linejoin="round" stroke-linecap="round"/>
<line x1="230.20" y1="647.60" x2="274.40" y2="647.60" stroke="#1c1c1c" stroke-width="0.92"/>
<path d="M185.0 691.6V660.2Q185.0 652.4 192.8 652.4Q200.6 652.4 200.6 660.2V691.6Q200.6 693.8 198.4 693.8H187.2Q185.0 693.8 185.0 691.6Z" fill="none" stroke="#1c1c1c" stroke-width="1.15" stroke-linejoin="round" stroke-linecap="round"/>
<path d="M177.5 666.4V686.4Q178.4 690.4 185 691.4" fill="none" stroke="#1c1c1c" stroke-width="1.03" stroke-linejoin="round" stroke-linecap="round"/>
<circle cx="181.20" cy="682.40" r="2.30" fill="none" stroke="#1c1c1c" stroke-width="1.03"/>
<path d="M153.8 688.4V692.6Q153.8 694.3 155.6 694.3H167Q168.8 694.3 168.8 692.6V690.4" fill="none" stroke="#1c1c1c" stroke-width="1.03" stroke-linejoin="round" stroke-linecap="round"/>
<path d="M212.5 666.4V683.4Q211 690 200.6 691.2" fill="none" stroke="#1c1c1c" stroke-width="1.03" stroke-linejoin="round" stroke-linecap="round"/>
<path d="M216.2 666.4V691.8Q216.2 693.8 218.2 693.8H229.8Q231.8 693.8 231.8 691.8V648" fill="none" stroke="#1c1c1c" stroke-width="1.09" stroke-linejoin="round" stroke-linecap="round"/>
<path d="M113.00 648.10h6.4v-1.6l4.4 3.1l-4.4 3.1v-1.6h-6.4Z" fill="none" stroke="#1c1c1c" stroke-width="0.86" stroke-linejoin="round" stroke-linecap="round"/>
<line x1="114.80" y1="648.10" x2="114.80" y2="651.10" stroke="#1c1c1c" stroke-width="0.57"/>
<line x1="116.80" y1="648.10" x2="116.80" y2="651.10" stroke="#1c1c1c" stroke-width="0.57"/>
<path d="M258.40 650.50h6.4v-1.6l4.4 3.1l-4.4 3.1v-1.6h-6.4Z" fill="none" stroke="#1c1c1c" stroke-width="0.86" stroke-linejoin="round" stroke-linecap="round"/>
<line x1="260.20" y1="650.50" x2="260.20" y2="653.50" stroke="#1c1c1c" stroke-width="0.57"/>
<line x1="262.20" y1="650.50" x2="262.20" y2="653.50" stroke="#1c1c1c" stroke-width="0.57"/>
<line x1="99.00" y1="645.50" x2="302.00" y2="645.50" stroke="#1c1c1c" stroke-width="0.86" stroke-dasharray="13 2 2 2"/>
<line x1="235.40" y1="625.60" x2="267.50" y2="625.60" stroke="#1c1c1c" stroke-width="1.03"/>
<path d="M267.5 610H282.0V680.4H274.4M274.4 610V680.4M267.5 610V631.5" fill="none" stroke="#1c1c1c" stroke-width="1.15" stroke-linejoin="round" stroke-linecap="round"/>
<line x1="283.40" y1="623.00" x2="283.40" y2="669.80" stroke="#1c1c1c" stroke-width="1.72"/>
<path d="M235 636.4C238 633.4 244 632.2 252 631.7C258 631.5 263 631.5 274.4 631.5" fill="none" stroke="#1c1c1c" stroke-width="1.03" stroke-linejoin="round" stroke-linecap="round"/>
<path d="M230.5 648.2C234 653.4 240 656.2 250 657.6C258 658.4 266 658.7 274.4 658.8" fill="none" stroke="#1c1c1c" stroke-width="1.03" stroke-linejoin="round" stroke-linecap="round"/>
<path d="M231.8 679.6L274.4 671.4" fill="none" stroke="#1c1c1c" stroke-width="1.03" stroke-linejoin="round" stroke-linecap="round"/>
<line x1="232.60" y1="455.80" x2="313.60" y2="455.80" stroke="#1c1c1c" stroke-width="0.86"/>
<line x1="239.00" y1="588.00" x2="302.40" y2="588.00" stroke="#1c1c1c" stroke-width="0.86"/>
<line x1="229.60" y1="693.90" x2="313.40" y2="693.90" stroke="#1c1c1c" stroke-width="0.86"/>
<line x1="297.10" y1="588.00" x2="297.10" y2="645.20" stroke="#1c1c1c" stroke-width="0.86"/>
<path d="M297.10 588.00L298.65 593.60L295.55 593.60Z" fill="#1c1c1c"/>
<path d="M297.10 645.20L295.55 639.60L298.65 639.60Z" fill="#1c1c1c"/>
<line x1="297.10" y1="645.20" x2="297.10" y2="693.90" stroke="#1c1c1c" stroke-width="0.86"/>
<path d="M297.10 645.20L298.65 650.80L295.55 650.80Z" fill="#1c1c1c"/>
<path d="M297.10 693.90L295.55 688.30L298.65 688.30Z" fill="#1c1c1c"/>
<line x1="307.80" y1="455.80" x2="307.80" y2="693.90" stroke="#1c1c1c" stroke-width="0.86"/>
<path d="M307.80 455.80L309.35 461.40L306.25 461.40Z" fill="#1c1c1c"/>
<path d="M307.80 693.90L306.25 688.30L309.35 688.30Z" fill="#1c1c1c"/>
<text x="294.40" y="616.40" font-size="9.50" text-anchor="middle" fill="#1c1c1c" stroke="#1c1c1c" stroke-width="0.2" font-family="'Liberation Serif', serif" transform="rotate(-90 294.40 616.40)">H2</text>
<text x="294.40" y="667.60" font-size="9.50" text-anchor="middle" fill="#1c1c1c" stroke="#1c1c1c" stroke-width="0.2" font-family="'Liberation Serif', serif" transform="rotate(-90 294.40 667.60)">H1</text>
<text x="305.20" y="574.00" font-size="9.50" text-anchor="middle" fill="#1c1c1c" stroke="#1c1c1c" stroke-width="0.2" font-family="'Liberation Serif', serif" transform="rotate(-90 305.20 574.00)">H3</text>
<line x1="102.00" y1="680.40" x2="102.00" y2="733.40" stroke="#1c1c1c" stroke-width="0.86"/>
<line x1="283.60" y1="669.80" x2="283.60" y2="733.40" stroke="#1c1c1c" stroke-width="0.86"/>
<line x1="192.40" y1="696.00" x2="192.40" y2="713.00" stroke="#1c1c1c" stroke-width="0.86"/>
<line x1="192.40" y1="709.50" x2="283.60" y2="709.50" stroke="#1c1c1c" stroke-width="0.86"/>
<path d="M192.40 709.50L198.00 707.95L198.00 711.05Z" fill="#1c1c1c"/>
<path d="M283.60 709.50L278.00 711.05L278.00 707.95Z" fill="#1c1c1c"/>
<text x="236.00" y="707.20" font-size="9.50" text-anchor="middle" fill="#1c1c1c" stroke="#1c1c1c" stroke-width="0.2" font-family="'Liberation Serif', serif">L2</text>
<line x1="102.00" y1="729.20" x2="283.60" y2="729.20" stroke="#1c1c1c" stroke-width="0.86"/>
<path d="M102.00 729.20L107.60 727.65L107.60 730.75Z" fill="#1c1c1c"/>
<path d="M283.60 729.20L278.00 730.75L278.00 727.65Z" fill="#1c1c1c"/>
<text x="193.60" y="726.80" font-size="9.50" text-anchor="middle" fill="#1c1c1c" stroke="#1c1c1c" stroke-width="0.2" font-family="'Liberation Serif', serif">L1</text>
<line x1="192.40" y1="750.40" x2="192.40" y2="736.00" stroke="#1c1c1c" stroke-width="0.86"/>
<path d="M192.40 733.60L193.60 740.10L191.20 740.10Z" fill="#1c1c1c"/>
<text x="184.00" y="743.40" font-size="10.00" text-anchor="middle" fill="#1c1c1c" stroke="#1c1c1c" stroke-width="0.2" font-family="'Liberation Serif', serif">K</text>
<line x1="363.80" y1="438.60" x2="363.80" y2="584.40" stroke="#1c1c1c" stroke-width="0.86"/>
<line x1="455.40" y1="438.60" x2="455.40" y2="584.40" stroke="#1c1c1c" stroke-width="0.86"/>
<line x1="363.80" y1="445.00" x2="455.40" y2="445.00" stroke="#1c1c1c" stroke-width="0.86"/>
<path d="M363.80 445.00L369.40 443.45L369.40 446.55Z" fill="#1c1c1c"/>
<path d="M455.40 445.00L449.80 446.55L449.80 443.45Z" fill="#1c1c1c"/>
<text x="410.20" y="442.40" font-size="10.50" text-anchor="middle" fill="#1c1c1c" stroke="#1c1c1c" stroke-width="0.2" font-family="'Liberation Serif', serif">D</text>
<line x1="409.40" y1="450.50" x2="409.40" y2="700.00" stroke="#1c1c1c" stroke-width="0.86" stroke-dasharray="13 2 2 2"/>
<path d="M368 492.6V465.0Q368 464.2 368.5 463.2L371.0 457Q371.6 455.7 373 455.7H446.2Q447.6 455.7 448.2 457L450.5 463.2Q451 464.2 451 465.0V492.6" fill="none" stroke="#1c1c1c" stroke-width="1.15" stroke-linejoin="round" stroke-linecap="round"/>
<line x1="368.00" y1="464.20" x2="451.00" y2="464.20" stroke="#1c1c1c" stroke-width="0.92"/>
<rect x="366.20" y="489.80" width="1.80" height="4.00" rx="0.00" fill="none" stroke="#1c1c1c" stroke-width="0.80"/>
<rect x="451.00" y="489.80" width="1.80" height="4.00" rx="0.00" fill="none" stroke="#1c1c1c" stroke-width="0.80"/>
<line x1="366.40" y1="492.90" x2="452.80" y2="492.90" stroke="#1c1c1c" stroke-width="0.80"/>
<circle cx="409.40" cy="490.40" r="1.00" fill="#1c1c1c" stroke="#1c1c1c" stroke-width="0.57"/>
<path d="M367.8 494.8H451.4M367.8 494.8V568.2Q367.8 570.2 369.8 570.2H449.4Q451.4 570.2 451.4 568.4V494.8" fill="none" stroke="#1c1c1c" stroke-width="1.15" stroke-linejoin="round" stroke-linecap="round"/>
<rect x="369.40" y="495.60" width="12.60" height="73.40" rx="2.20" fill="none" stroke="#1c1c1c" stroke-width="0.92"/>
<rect x="437.20" y="495.60" width="12.60" height="73.40" rx="2.20" fill="none" stroke="#1c1c1c" stroke-width="0.92"/>
<line x1="383.80" y1="494.80" x2="383.80" y2="569.80" stroke="#1c1c1c" stroke-width="2.07"/>
<line x1="387.40" y1="494.80" x2="387.40" y2="569.80" stroke="#1c1c1c" stroke-width="0.80"/>
<line x1="390.00" y1="494.80" x2="390.00" y2="569.80" stroke="#1c1c1c" stroke-width="1.26"/>
<line x1="393.60" y1="494.80" x2="393.60" y2="569.80" stroke="#1c1c1c" stroke-width="1.72"/>
<line x1="396.80" y1="494.80" x2="396.80" y2="569.80" stroke="#1c1c1c" stroke-width="0.80"/>
<line x1="400.40" y1="494.80" x2="400.40" y2="569.80" stroke="#1c1c1c" stroke-width="1.72"/>
<line x1="403.00" y1="494.80" x2="403.00" y2="569.80" stroke="#1c1c1c" stroke-width="0.80"/>
<line x1="414.60" y1="494.80" x2="414.60" y2="569.80" stroke="#1c1c1c" stroke-width="0.80"/>
<line x1="417.80" y1="494.80" x2="417.80" y2="569.80" stroke="#1c1c1c" stroke-width="2.18"/>
<line x1="421.40" y1="494.80" x2="421.40" y2="569.80" stroke="#1c1c1c" stroke-width="1.72"/>
<line x1="424.60" y1="494.80" x2="424.60" y2="569.80" stroke="#1c1c1c" stroke-width="1.26"/>
<line x1="427.80" y1="494.80" x2="427.80" y2="569.80" stroke="#1c1c1c" stroke-width="0.80"/>
<line x1="430.00" y1="494.80" x2="430.00" y2="569.80" stroke="#1c1c1c" stroke-width="1.72"/>
<line x1="433.20" y1="494.80" x2="433.20" y2="569.80" stroke="#1c1c1c" stroke-width="0.80"/>
<line x1="406.00" y1="494.80" x2="406.00" y2="569.80" stroke="#1c1c1c" stroke-width="1.03"/>
<line x1="412.80" y1="494.80" x2="412.80" y2="569.80" stroke="#1c1c1c" stroke-width="1.03"/>
<line x1="406.00" y1="519.40" x2="412.80" y2="519.40" stroke="#1c1c1c" stroke-width="0.92"/>
<line x1="406.00" y1="544.40" x2="412.80" y2="544.40" stroke="#1c1c1c" stroke-width="0.92"/>
<rect x="451.40" y="550.20" width="1.20" height="3.20" rx="0.00" fill="none" stroke="#1c1c1c" stroke-width="0.69"/>
<path d="M368.2 570.2L366.6 584.4M451 570.2L452.6 584.4" fill="none" stroke="#1c1c1c" stroke-width="1.03" stroke-linejoin="round" stroke-linecap="round"/>
<line x1="371.00" y1="570.40" x2="370.00" y2="584.20" stroke="#1c1c1c" stroke-width="0.69"/>
<line x1="448.20" y1="570.40" x2="449.20" y2="584.20" stroke="#1c1c1c" stroke-width="0.69"/>
<rect x="380.00" y="573.80" width="9.80" height="10.60" rx="0.00" fill="none" stroke="#1c1c1c" stroke-width="1.03"/>
<line x1="381.60" y1="575.60" x2="388.20" y2="575.60" stroke="#1c1c1c" stroke-width="1.49"/>
<rect x="429.40" y="573.80" width="9.40" height="10.60" rx="0.00" fill="none" stroke="#1c1c1c" stroke-width="1.03"/>
<line x1="431.00" y1="575.60" x2="437.20" y2="575.60" stroke="#1c1c1c" stroke-width="1.49"/>
<line x1="406.40" y1="572.60" x2="406.40" y2="584.40" stroke="#1c1c1c" stroke-width="0.80"/>
<line x1="412.60" y1="572.60" x2="412.60" y2="584.40" stroke="#1c1c1c" stroke-width="0.80"/>
<rect x="363.80" y="584.40" width="91.80" height="8.00" rx="1.20" fill="none" stroke="#1c1c1c" stroke-width="1.15"/>
<line x1="364.00" y1="589.20" x2="455.40" y2="589.20" stroke="#1c1c1c" stroke-width="0.80"/>
<path d="M386.4 592.4V615.4M394.8 592.4V614M386.4 601.8H394.8M386.4 604H394.8" fill="none" stroke="#1c1c1c" stroke-width="1.03" stroke-linejoin="round" stroke-linecap="round"/>
<path d="M425.4 592.4V615.4M433.0 592.4V614M425.4 601.8H433.0M425.4 604H433.0" fill="none" stroke="#1c1c1c" stroke-width="1.03" stroke-linejoin="round" stroke-linecap="round"/>
<line x1="394.80" y1="607.00" x2="425.40" y2="607.00" stroke="#1c1c1c" stroke-width="0.80"/>
<path d="M394.8 611.2Q409.4 604.6 425.4 611.2" fill="none" stroke="#1c1c1c" stroke-width="0.80" stroke-linejoin="round" stroke-linecap="round"/>
<path d="M365.4 640V621.4Q365.4 619.3 367.6 619.3H384M434.6 619.3H451.8Q454 619.3 454 621.4V652.4" fill="none" stroke="#1c1c1c" stroke-width="1.15" stroke-linejoin="round" stroke-linecap="round"/>
<line x1="365.60" y1="623.20" x2="381.00" y2="623.20" stroke="#1c1c1c" stroke-width="0.80"/>
<line x1="438.00" y1="623.20" x2="453.80" y2="623.20" stroke="#1c1c1c" stroke-width="0.80"/>
<rect x="367.80" y="615.60" width="9.00" height="3.60" rx="0.00" fill="none" stroke="#1c1c1c" stroke-width="0.92"/>
<line x1="370.60" y1="615.60" x2="370.60" y2="619.20" stroke="#1c1c1c" stroke-width="0.57"/>
<line x1="374.00" y1="615.60" x2="374.00" y2="619.20" stroke="#1c1c1c" stroke-width="0.57"/>
<rect x="369.40" y="614.20" width="5.80" height="1.40" rx="0.00" fill="none" stroke="#1c1c1c" stroke-width="0.69"/>
<rect x="442.60" y="615.60" width="9.00" height="3.60" rx="0.00" fill="none" stroke="#1c1c1c" stroke-width="0.92"/>
<line x1="445.40" y1="615.60" x2="445.40" y2="619.20" stroke="#1c1c1c" stroke-width="0.57"/>
<line x1="448.80" y1="615.60" x2="448.80" y2="619.20" stroke="#1c1c1c" stroke-width="0.57"/>
<rect x="444.20" y="614.20" width="5.80" height="1.40" rx="0.00" fill="none" stroke="#1c1c1c" stroke-width="0.69"/>
<path d="M371.4 633.4A12.4 12.4 0 0 0 371.8 657.6" fill="none" stroke="#1c1c1c" stroke-width="1.15" stroke-linejoin="round" stroke-linecap="round"/>
<path d="M365.4 640V633" fill="none" stroke="#1c1c1c" stroke-width="1.03" stroke-linejoin="round" stroke-linecap="round"/>
<rect x="449.20" y="644.60" width="4.80" height="8.00" rx="0.00" fill="none" stroke="#1c1c1c" stroke-width="0.92"/>
<path d="M446.4 652.6Q450 656 453.6 652.6" fill="none" stroke="#1c1c1c" stroke-width="0.80" stroke-linejoin="round" stroke-linecap="round"/>
<path d="M369.6 656.6V694H384.2V672M372.0 658.4V692M386.6 674V690" fill="none" stroke="#1c1c1c" stroke-width="1.03" stroke-linejoin="round" stroke-linecap="round"/>
<path d="M449.2 652.6V694H433.6V672M446.8 656V692M431.2 674V690" fill="none" stroke="#1c1c1c" stroke-width="1.03" stroke-linejoin="round" stroke-linecap="round"/>
<path d="M388.2 674.6C388.4 684 391 688 398 690.4Q402 691.5 409.4 691.5Q417 691.5 421 690.4C428 688 431 684 431.3 674.6" fill="none" stroke="#1c1c1c" stroke-width="1.09" stroke-linejoin="round" stroke-linecap="round"/>
<rect x="402.00" y="691.50" width="14.60" height="2.90" rx="0.00" fill="none" stroke="#1c1c1c" stroke-width="0.92"/>
<circle cx="409.40" cy="645.40" r="36.40" fill="#fff" stroke="#1c1c1c" stroke-width="1.21"/>
<circle cx="409.40" cy="645.40" r="21.30" fill="none" stroke="#1c1c1c" stroke-width="1.15"/>
<circle cx="409.40" cy="645.40" r="10.60" fill="none" stroke="#1c1c1c" stroke-width="1.15"/>
<circle cx="409.40" cy="645.40" r="27.70" fill="none" stroke="#1c1c1c" stroke-width="0.92" stroke-dasharray="9 3.2"/>
<circle cx="434.99" cy="656.00" r="3.70" fill="#fff" stroke="#1c1c1c" stroke-width="1.09"/>
<line x1="430.74" y1="654.24" x2="439.24" y2="657.76" stroke="#1c1c1c" stroke-width="0.57"/>
<line x1="436.29" y1="652.86" x2="433.69" y2="659.14" stroke="#1c1c1c" stroke-width="0.57"/>
<circle cx="420.00" cy="670.99" r="3.70" fill="#fff" stroke="#1c1c1c" stroke-width="1.09"/>
<line x1="418.24" y1="666.74" x2="421.76" y2="675.24" stroke="#1c1c1c" stroke-width="0.57"/>
<line x1="423.14" y1="669.69" x2="416.86" y2="672.29" stroke="#1c1c1c" stroke-width="0.57"/>
<circle cx="398.80" cy="670.99" r="3.70" fill="#fff" stroke="#1c1c1c" stroke-width="1.09"/>
<line x1="400.56" y1="666.74" x2="397.04" y2="675.24" stroke="#1c1c1c" stroke-width="0.57"/>
<line x1="401.94" y1="672.29" x2="395.66" y2="669.69" stroke="#1c1c1c" stroke-width="0.57"/>
<circle cx="383.81" cy="656.00" r="3.70" fill="#fff" stroke="#1c1c1c" stroke-width="1.09"/>
<line x1="388.06" y1="654.24" x2="379.56" y2="657.76" stroke="#1c1c1c" stroke-width="0.57"/>
<line x1="385.11" y1="659.14" x2="382.51" y2="652.86" stroke="#1c1c1c" stroke-width="0.57"/>
<circle cx="383.81" cy="634.80" r="3.70" fill="#fff" stroke="#1c1c1c" stroke-width="1.09"/>
<line x1="388.06" y1="636.56" x2="379.56" y2="633.04" stroke="#1c1c1c" stroke-width="0.57"/>
<line x1="382.51" y1="637.94" x2="385.11" y2="631.66" stroke="#1c1c1c" stroke-width="0.57"/>
<circle cx="398.80" cy="619.81" r="3.70" fill="#fff" stroke="#1c1c1c" stroke-width="1.09"/>
<line x1="400.56" y1="624.06" x2="397.04" y2="615.56" stroke="#1c1c1c" stroke-width="0.57"/>
<line x1="395.66" y1="621.11" x2="401.94" y2="618.51" stroke="#1c1c1c" stroke-width="0.57"/>
<circle cx="420.00" cy="619.81" r="3.70" fill="#fff" stroke="#1c1c1c" stroke-width="1.09"/>
<line x1="418.24" y1="624.06" x2="421.76" y2="615.56" stroke="#1c1c1c" stroke-width="0.57"/>
<line x1="416.86" y1="618.51" x2="423.14" y2="621.11" stroke="#1c1c1c" stroke-width="0.57"/>
<circle cx="434.99" cy="634.80" r="3.70" fill="#fff" stroke="#1c1c1c" stroke-width="1.09"/>
<line x1="430.74" y1="636.56" x2="439.24" y2="633.04" stroke="#1c1c1c" stroke-width="0.57"/>
<line x1="433.69" y1="631.66" x2="436.29" y2="637.94" stroke="#1c1c1c" stroke-width="0.57"/>
<line x1="360.00" y1="645.40" x2="456.00" y2="645.40" stroke="#1c1c1c" stroke-width="0.86" stroke-dasharray="13 2 2 2"/>
<path d="M434.6 634.6L460.2 623.0H487.6" fill="none" stroke="#1c1c1c" stroke-width="0.86" stroke-linejoin="round" stroke-linecap="round"/>
<text x="472.80" y="621.00" font-size="9.50" text-anchor="middle" fill="#1c1c1c" stroke="#1c1c1c" stroke-width="0.2" font-family="'Liberation Serif', serif">8-ф18</text>
<line x1="362.40" y1="650.00" x2="362.40" y2="760.00" stroke="#1c1c1c" stroke-width="0.86"/>
<line x1="373.00" y1="655.00" x2="373.00" y2="748.60" stroke="#1c1c1c" stroke-width="0.86"/>
<line x1="381.70" y1="665.00" x2="381.70" y2="737.40" stroke="#1c1c1c" stroke-width="0.86"/>
<line x1="387.60" y1="668.00" x2="387.60" y2="725.60" stroke="#1c1c1c" stroke-width="0.86"/>
<line x1="398.80" y1="650.00" x2="398.80" y2="712.40" stroke="#1c1c1c" stroke-width="0.86"/>
<line x1="420.00" y1="650.00" x2="420.00" y2="712.40" stroke="#1c1c1c" stroke-width="0.86"/>
<line x1="431.20" y1="668.00" x2="431.20" y2="725.60" stroke="#1c1c1c" stroke-width="0.86"/>
<line x1="437.30" y1="665.00" x2="437.30" y2="737.40" stroke="#1c1c1c" stroke-width="0.86"/>
<line x1="445.60" y1="655.00" x2="445.60" y2="748.60" stroke="#1c1c1c" stroke-width="0.86"/>
<line x1="454.60" y1="652.00" x2="454.60" y2="760.00" stroke="#1c1c1c" stroke-width="0.86"/>
<line x1="409.40" y1="748.40" x2="409.40" y2="760.00" stroke="#1c1c1c" stroke-width="0.86"/>
<line x1="398.80" y1="708.80" x2="420.00" y2="708.80" stroke="#1c1c1c" stroke-width="0.86"/>
<path d="M398.80 708.80L404.40 707.25L404.40 710.35Z" fill="#1c1c1c"/>
<path d="M420.00 708.80L414.40 710.35L414.40 707.25Z" fill="#1c1c1c"/>
<rect x="399.6" y="696.6" width="19.8" height="9.6" fill="#fff"/>
<text x="410.40" y="705.40" font-size="9.60" text-anchor="middle" fill="#1c1c1c" stroke="#1c1c1c" stroke-width="0.2" font-family="'Liberation Serif', serif">ф125</text>
<line x1="387.60" y1="722.00" x2="431.20" y2="722.00" stroke="#1c1c1c" stroke-width="0.86"/>
<path d="M387.60 722.00L393.20 720.45L393.20 723.55Z" fill="#1c1c1c"/>
<path d="M431.20 722.00L425.60 723.55L425.60 720.45Z" fill="#1c1c1c"/>
<text x="409.60" y="719.40" font-size="10.00" text-anchor="middle" fill="#1c1c1c" stroke="#1c1c1c" stroke-width="0.2" font-family="'Liberation Serif', serif">ф184</text>
<line x1="381.70" y1="733.80" x2="437.30" y2="733.80" stroke="#1c1c1c" stroke-width="0.86"/>
<path d="M381.70 733.80L387.30 732.25L387.30 735.35Z" fill="#1c1c1c"/>
<path d="M437.30 733.80L431.70 735.35L431.70 732.25Z" fill="#1c1c1c"/>
<text x="408.60" y="731.60" font-size="11.20" text-anchor="middle" fill="#1c1c1c" stroke="#1c1c1c" stroke-width="0.2" font-family="'Liberation Serif', serif">ф210</text>
<line x1="373.00" y1="745.00" x2="445.60" y2="745.00" stroke="#1c1c1c" stroke-width="0.86"/>
<path d="M373.00 745.00L378.60 743.45L378.60 746.55Z" fill="#1c1c1c"/>
<path d="M445.60 745.00L440.00 746.55L440.00 743.45Z" fill="#1c1c1c"/>
<text x="408.80" y="742.80" font-size="11.20" text-anchor="middle" fill="#1c1c1c" stroke="#1c1c1c" stroke-width="0.2" font-family="'Liberation Serif', serif">ф250</text>
<line x1="362.40" y1="756.30" x2="409.40" y2="756.30" stroke="#1c1c1c" stroke-width="0.86"/>
<path d="M362.40 756.30L368.00 754.75L368.00 757.85Z" fill="#1c1c1c"/>
<path d="M409.40 756.30L403.80 757.85L403.80 754.75Z" fill="#1c1c1c"/>
<line x1="409.40" y1="756.30" x2="454.60" y2="756.30" stroke="#1c1c1c" stroke-width="0.86"/>
<path d="M409.40 756.30L415.00 754.75L415.00 757.85Z" fill="#1c1c1c"/>
<path d="M454.60 756.30L449.00 757.85L449.00 754.75Z" fill="#1c1c1c"/>
<text x="389.20" y="754.00" font-size="10.00" text-anchor="middle" fill="#1c1c1c" stroke="#1c1c1c" stroke-width="0.2" font-family="'Liberation Serif', serif">B3</text>
<text x="429.60" y="754.00" font-size="10.00" text-anchor="middle" fill="#1c1c1c" stroke="#1c1c1c" stroke-width="0.2" font-family="'Liberation Serif', serif">B4</text>
<rect x="529.80" y="610.00" width="7.80" height="71.00" rx="0.00" fill="none" stroke="#1c1c1c" stroke-width="1.15"/>
<line x1="528.20" y1="620.40" x2="528.20" y2="671.00" stroke="#1c1c1c" stroke-width="1.49"/>
<rect x="679.40" y="610.00" width="7.80" height="71.00" rx="0.00" fill="none" stroke="#1c1c1c" stroke-width="1.15"/>
<line x1="688.80" y1="623.00" x2="688.80" y2="668.00" stroke="#1c1c1c" stroke-width="1.49"/>
<circle cx="608.30" cy="645.60" r="45.00" fill="none" stroke="#1c1c1c" stroke-width="1.03"/>
<path d="M566.32 629.4A45.0 45.0 0 0 1 652.26 636.0" fill="none" stroke="#1c1c1c" stroke-width="2.30" stroke-linejoin="round" stroke-linecap="round"/>
<circle cx="608.30" cy="645.60" r="41.20" fill="none" stroke="#1c1c1c" stroke-width="1.03"/>
<circle cx="608.30" cy="645.60" r="35.00" fill="none" stroke="#1c1c1c" stroke-width="1.03"/>
<path d="M612.0 623.9A22 22 0 0 1 612.0 667.1" fill="none" stroke="#1c1c1c" stroke-width="1.03" stroke-linejoin="round" stroke-linecap="round"/>
<rect x="538.2" y="629.4" width="47.4" height="32.0" fill="#fff"/>
<path d="M537.6 626.6Q538 629.4 541.4 629.4H585Q588 629.6 588.8 631.4" fill="none" stroke="#1c1c1c" stroke-width="1.03" stroke-linejoin="round" stroke-linecap="round"/>
<path d="M537.6 664.2Q538 661.4 541.4 661.4H585Q588 661.2 588.8 659.4" fill="none" stroke="#1c1c1c" stroke-width="1.03" stroke-linejoin="round" stroke-linecap="round"/>
<path d="M583 627.7Q584 626.9 586 626.8L602 625.7" fill="none" stroke="#1c1c1c" stroke-width="0.92" stroke-linejoin="round" stroke-linecap="round"/>
<path d="M583 663.1Q584 663.9 586 664.0L602 665.1" fill="none" stroke="#1c1c1c" stroke-width="0.92" stroke-linejoin="round" stroke-linecap="round"/>
<path d="M649.4 622.2H679.4V670.2H649.4Q656 646 649.4 622.2Z" fill="#fff"/>
<line x1="648.60" y1="622.20" x2="679.40" y2="622.20" stroke="#1c1c1c" stroke-width="1.03"/>
<line x1="648.60" y1="670.20" x2="679.40" y2="670.20" stroke="#1c1c1c" stroke-width="1.03"/>
<path d="M646.6 642.4C651 635.4 658 633 668 632.2C673 631.8 676 631 679.4 628.6" fill="none" stroke="#1c1c1c" stroke-width="1.03" stroke-linejoin="round" stroke-linecap="round"/>
<path d="M646.6 648.8C651 656 658 658.4 668 659.2C673 659.6 676 660.4 679.4 662.8" fill="none" stroke="#1c1c1c" stroke-width="1.03" stroke-linejoin="round" stroke-linecap="round"/>
<line x1="648.00" y1="644.40" x2="679.40" y2="644.40" stroke="#1c1c1c" stroke-width="0.69"/>
<line x1="648.00" y1="647.00" x2="679.40" y2="647.00" stroke="#1c1c1c" stroke-width="0.69"/>
<path d="M659.4 619.0H668V622.2M663.6 619.6H667.4" fill="none" stroke="#1c1c1c" stroke-width="0.92" stroke-linejoin="round" stroke-linecap="round"/>
<path d="M662.6 664.2H668V670.2M666.2 664.2V669.6" fill="none" stroke="#1c1c1c" stroke-width="0.92" stroke-linejoin="round" stroke-linecap="round"/>
<path d="M602.0 621.9L601.3 614.4A6.9 6.9 0 0 1 615.1 614.4L614.4 621.9V635.7Q614.4 638.8 617.5 638.8H639.6A6.6 6.6 0 0 1 639.6 652.0H617.5Q614.4 652.0 614.4 655.1V669.0L615.1 676.6A6.9 6.9 0 0 1 601.3 676.6L602.0 669.0V655.1Q602.0 652.0 598.9 652.0H576.6A6.6 6.6 0 0 1 576.6 638.8H598.9Q602.0 638.8 602.0 635.7Z" fill="#fff" stroke="#1c1c1c" stroke-width="1.15" stroke-linejoin="round" stroke-linecap="round"/>
<line x1="602.00" y1="621.90" x2="614.40" y2="621.90" stroke="#1c1c1c" stroke-width="0.92"/>
<line x1="602.00" y1="669.00" x2="614.40" y2="669.00" stroke="#1c1c1c" stroke-width="0.92"/>
<line x1="584.40" y1="639.00" x2="584.40" y2="651.80" stroke="#1c1c1c" stroke-width="0.92"/>
<line x1="631.90" y1="639.00" x2="631.90" y2="651.80" stroke="#1c1c1c" stroke-width="0.92"/>
<circle cx="608.30" cy="614.40" r="3.00" fill="none" stroke="#1c1c1c" stroke-width="1.03"/>
<circle cx="608.30" cy="614.40" r="1.70" fill="none" stroke="#1c1c1c" stroke-width="0.92"/>
<circle cx="608.30" cy="676.60" r="3.00" fill="none" stroke="#1c1c1c" stroke-width="1.03"/>
<circle cx="608.30" cy="676.60" r="1.70" fill="none" stroke="#1c1c1c" stroke-width="0.92"/>
<line x1="516.00" y1="645.60" x2="699.00" y2="645.60" stroke="#1c1c1c" stroke-width="0.86" stroke-dasharray="13 2 2 2"/>
<line x1="608.30" y1="596.00" x2="608.30" y2="697.00" stroke="#1c1c1c" stroke-width="0.86" stroke-dasharray="13 2 2 2"/>
<text x="605.40" y="591.00" font-size="10.00" text-anchor="middle" fill="#1c1c1c" stroke="#1c1c1c" stroke-width="0.2" font-family="'Liberation Serif', serif">K</text>
<text x="610.80" y="591.30" font-size="7.60" text-anchor="start" fill="#1c1c1c" font-family="'Liberation Serif', 'Noto Serif CJK SC', serif">向</text>
<path d="M611.0 612.4L633.8 596.7H665.6" fill="none" stroke="#1c1c1c" stroke-width="0.86" stroke-linejoin="round" stroke-linecap="round"/>
<line x1="633.80" y1="596.90" x2="665.80" y2="596.90" stroke="#1c1c1c" stroke-width="1.49"/>
<text x="649.80" y="594.60" font-size="9.60" text-anchor="middle" fill="#1c1c1c" stroke="#1c1c1c" stroke-width="0.2" font-family="'Liberation Serif', serif" letter-spacing="0.3">2-M16</text>
<line x1="611.00" y1="614.40" x2="714.40" y2="614.40" stroke="#1c1c1c" stroke-width="0.86"/>
<line x1="611.00" y1="676.80" x2="714.40" y2="676.80" stroke="#1c1c1c" stroke-width="0.86"/>
<line x1="709.40" y1="614.40" x2="709.40" y2="676.80" stroke="#1c1c1c" stroke-width="0.86"/>
<path d="M709.40 614.40L710.95 620.00L707.85 620.00Z" fill="#1c1c1c"/>
<path d="M709.40 676.80L707.85 671.20L710.95 671.20Z" fill="#1c1c1c"/>
<text x="708.80" y="644.60" font-size="10.50" text-anchor="middle" fill="#1c1c1c" stroke="#1c1c1c" stroke-width="0.2" font-family="'Liberation Serif', serif" transform="rotate(-90 708.80 644.60)">B5</text>
<line x1="167.70" y1="862.70" x2="678.40" y2="862.70" stroke="#4a4a4a" stroke-width="1.00"/>
<line x1="71.50" y1="881.10" x2="740.30" y2="881.10" stroke="#4a4a4a" stroke-width="1.00"/>
<line x1="71.50" y1="904.26" x2="740.30" y2="904.26" stroke="#4a4a4a" stroke-width="1.00"/>
<line x1="71.50" y1="927.43" x2="740.30" y2="927.43" stroke="#4a4a4a" stroke-width="1.00"/>
<line x1="71.50" y1="950.59" x2="740.30" y2="950.59" stroke="#4a4a4a" stroke-width="1.00"/>
<line x1="71.50" y1="973.75" x2="740.30" y2="973.75" stroke="#4a4a4a" stroke-width="1.00"/>
<line x1="71.50" y1="996.91" x2="740.30" y2="996.91" stroke="#4a4a4a" stroke-width="1.00"/>
<line x1="71.50" y1="1020.08" x2="740.30" y2="1020.08" stroke="#4a4a4a" stroke-width="1.00"/>
<line x1="71.50" y1="1043.24" x2="740.30" y2="1043.24" stroke="#4a4a4a" stroke-width="1.00"/>
<line x1="167.70" y1="844.00" x2="167.70" y2="1066.40" stroke="#4a4a4a" stroke-width="1.00"/>
<line x1="678.40" y1="844.00" x2="678.40" y2="1066.40" stroke="#4a4a4a" stroke-width="1.00"/>
<line x1="206.98" y1="862.70" x2="206.98" y2="1066.40" stroke="#4a4a4a" stroke-width="1.00"/>
<line x1="246.27" y1="862.70" x2="246.27" y2="1066.40" stroke="#4a4a4a" stroke-width="1.00"/>
<line x1="285.55" y1="862.70" x2="285.55" y2="1066.40" stroke="#4a4a4a" stroke-width="1.00"/>
<line x1="324.84" y1="862.70" x2="324.84" y2="1066.40" stroke="#4a4a4a" stroke-width="1.00"/>
<line x1="364.12" y1="862.70" x2="364.12" y2="1066.40" stroke="#4a4a4a" stroke-width="1.00"/>
<line x1="403.41" y1="862.70" x2="403.41" y2="1066.40" stroke="#4a4a4a" stroke-width="1.00"/>
<line x1="442.69" y1="862.70" x2="442.69" y2="1066.40" stroke="#4a4a4a" stroke-width="1.00"/>
<line x1="481.98" y1="862.70" x2="481.98" y2="1066.40" stroke="#4a4a4a" stroke-width="1.00"/>
<line x1="521.26" y1="862.70" x2="521.26" y2="1066.40" stroke="#4a4a4a" stroke-width="1.00"/>
<line x1="560.55" y1="862.70" x2="560.55" y2="1066.40" stroke="#4a4a4a" stroke-width="1.00"/>
<line x1="599.83" y1="862.70" x2="599.83" y2="1066.40" stroke="#4a4a4a" stroke-width="1.00"/>
<line x1="639.12" y1="862.70" x2="639.12" y2="1066.40" stroke="#4a4a4a" stroke-width="1.00"/>
<line x1="70.90" y1="844.00" x2="740.90" y2="844.00" stroke="#555" stroke-width="1.60"/>
<line x1="70.90" y1="1066.40" x2="740.90" y2="1066.40" stroke="#555" stroke-width="1.25"/>
<line x1="71.50" y1="844.00" x2="71.50" y2="1066.40" stroke="#555" stroke-width="1.20"/>
<line x1="740.30" y1="844.00" x2="740.30" y2="1066.40" stroke="#555" stroke-width="1.20"/>
<text x="96.00" y="866.90" font-size="13.00" text-anchor="start" fill="#2a2a2a" font-family="'Liberation Serif', 'Noto Serif CJK SC', serif" letter-spacing="3.4">泵型号</text>
<text x="387.80" y="858.50" font-size="13.00" text-anchor="start" fill="#2a2a2a" font-family="'Liberation Serif', 'Noto Serif CJK SC', serif" letter-spacing="1.6">尺寸</text>
<text x="428.20" y="858.50" font-size="13.00" text-anchor="end" fill="#2a2a2a" font-family="'Liberation Serif', 'Noto Serif CJK SC', serif">［</text>
<text x="440.60" y="858.40" font-size="14.20" text-anchor="middle" fill="#2a2a2a" stroke="#2a2a2a" stroke-width="0.22" font-family="'Liberation Serif', serif" letter-spacing="0.3">mm</text>
<text x="452.50" y="858.50" font-size="13.00" text-anchor="start" fill="#2a2a2a" font-family="'Liberation Serif', 'Noto Serif CJK SC', serif">］</text>
<text x="695.90" y="858.30" font-size="13.00" text-anchor="start" fill="#2a2a2a" font-family="'Liberation Serif', 'Noto Serif CJK SC', serif" letter-spacing="1.2">重量</text>
<text x="700.90" y="876.30" font-size="13.00" text-anchor="end" fill="#2a2a2a" font-family="'Liberation Serif', 'Noto Serif CJK SC', serif">［</text>
<text x="709.20" y="876.60" font-size="14.50" text-anchor="middle" fill="#2a2a2a" stroke="#2a2a2a" stroke-width="0.22" font-family="'Liberation Serif', serif">kg</text>
<text x="717.50" y="876.30" font-size="13.00" text-anchor="start" fill="#2a2a2a" font-family="'Liberation Serif', 'Noto Serif CJK SC', serif">］</text>
<text x="187.34" y="877.08" font-size="14.50" text-anchor="middle" fill="#2a2a2a" stroke="#2a2a2a" stroke-width="0.22" font-family="'Liberation Serif', serif">D</text>
<text x="226.63" y="877.08" font-size="14.50" text-anchor="middle" fill="#2a2a2a" stroke="#2a2a2a" stroke-width="0.22" font-family="'Liberation Serif', serif">B1</text>
<text x="265.91" y="877.08" font-size="14.50" text-anchor="middle" fill="#2a2a2a" stroke="#2a2a2a" stroke-width="0.22" font-family="'Liberation Serif', serif">B2</text>
<text x="305.20" y="877.08" font-size="14.50" text-anchor="middle" fill="#2a2a2a" stroke="#2a2a2a" stroke-width="0.22" font-family="'Liberation Serif', serif">B3</text>
<text x="344.48" y="877.08" font-size="14.50" text-anchor="middle" fill="#2a2a2a" stroke="#2a2a2a" stroke-width="0.22" font-family="'Liberation Serif', serif">B4</text>
<text x="383.77" y="877.08" font-size="14.50" text-anchor="middle" fill="#2a2a2a" stroke="#2a2a2a" stroke-width="0.22" font-family="'Liberation Serif', serif">B5</text>
<text x="423.05" y="877.08" font-size="14.50" text-anchor="middle" fill="#2a2a2a" stroke="#2a2a2a" stroke-width="0.22" font-family="'Liberation Serif', serif">H1</text>
<text x="462.33" y="877.08" font-size="14.50" text-anchor="middle" fill="#2a2a2a" stroke="#2a2a2a" stroke-width="0.22" font-family="'Liberation Serif', serif">H2</text>
<text x="501.62" y="877.08" font-size="14.5" text-anchor="middle" fill="#2a2a2a" stroke="#2a2a2a" stroke-width="0.22" font-family="'Liberation Serif', serif">H2<tspan font-size="14" dy="3.2">*</tspan></text>
<text x="540.90" y="877.08" font-size="14.50" text-anchor="middle" fill="#2a2a2a" stroke="#2a2a2a" stroke-width="0.22" font-family="'Liberation Serif', serif">H3</text>
<text x="580.19" y="877.08" font-size="14.5" text-anchor="middle" fill="#2a2a2a" stroke="#2a2a2a" stroke-width="0.22" font-family="'Liberation Serif', serif">H3<tspan font-size="14" dy="3.2">*</tspan></text>
<text x="619.47" y="877.08" font-size="14.50" text-anchor="middle" fill="#2a2a2a" stroke="#2a2a2a" stroke-width="0.22" font-family="'Liberation Serif', serif">L1</text>
<text x="658.76" y="877.08" font-size="14.50" text-anchor="middle" fill="#2a2a2a" stroke="#2a2a2a" stroke-width="0.22" font-family="'Liberation Serif', serif">L2</text>
<text x="91.80" y="895.55" font-size="10.80" text-anchor="start" fill="#2a2a2a" stroke="#2a2a2a" stroke-width="0.22" font-family="'Liberation Serif', serif" letter-spacing="0.45">TD125-11G/4</text>
<text x="187.54" y="895.55" font-size="10.80" text-anchor="middle" fill="#2a2a2a" stroke="#2a2a2a" stroke-width="0.22" font-family="'Liberation Serif', serif" letter-spacing="0.45">200</text>
<text x="226.83" y="895.55" font-size="10.80" text-anchor="middle" fill="#2a2a2a" stroke="#2a2a2a" stroke-width="0.22" font-family="'Liberation Serif', serif" letter-spacing="0.45">257</text>
<text x="266.11" y="895.55" font-size="10.80" text-anchor="middle" fill="#2a2a2a" stroke="#2a2a2a" stroke-width="0.22" font-family="'Liberation Serif', serif" letter-spacing="0.45">190</text>
<text x="305.40" y="895.55" font-size="10.80" text-anchor="middle" fill="#2a2a2a" stroke="#2a2a2a" stroke-width="0.22" font-family="'Liberation Serif', serif" letter-spacing="0.45">198</text>
<text x="344.68" y="895.55" font-size="10.80" text-anchor="middle" fill="#2a2a2a" stroke="#2a2a2a" stroke-width="0.22" font-family="'Liberation Serif', serif" letter-spacing="0.45">162</text>
<text x="383.97" y="895.55" font-size="10.80" text-anchor="middle" fill="#2a2a2a" stroke="#2a2a2a" stroke-width="0.22" font-family="'Liberation Serif', serif" letter-spacing="0.45">230</text>
<text x="423.25" y="895.55" font-size="10.80" text-anchor="middle" fill="#2a2a2a" stroke="#2a2a2a" stroke-width="0.22" font-family="'Liberation Serif', serif" letter-spacing="0.45">160</text>
<text x="462.53" y="895.55" font-size="10.80" text-anchor="middle" fill="#2a2a2a" stroke="#2a2a2a" stroke-width="0.22" font-family="'Liberation Serif', serif" letter-spacing="0.45">229</text>
<text x="501.82" y="895.55" font-size="10.80" text-anchor="middle" fill="#2a2a2a" stroke="#2a2a2a" stroke-width="0.22" font-family="'Liberation Serif', serif" letter-spacing="1.6">--</text>
<text x="541.10" y="895.55" font-size="10.80" text-anchor="middle" fill="#2a2a2a" stroke="#2a2a2a" stroke-width="0.22" font-family="'Liberation Serif', serif" letter-spacing="0.45">772</text>
<text x="580.39" y="895.55" font-size="10.80" text-anchor="middle" fill="#2a2a2a" stroke="#2a2a2a" stroke-width="0.22" font-family="'Liberation Serif', serif" letter-spacing="1.6">--</text>
<text x="619.67" y="895.55" font-size="10.80" text-anchor="middle" fill="#2a2a2a" stroke="#2a2a2a" stroke-width="0.22" font-family="'Liberation Serif', serif" letter-spacing="0.45">620</text>
<text x="658.96" y="895.55" font-size="10.80" text-anchor="middle" fill="#2a2a2a" stroke="#2a2a2a" stroke-width="0.22" font-family="'Liberation Serif', serif" letter-spacing="0.45">310</text>
<text x="709.75" y="896.31" font-size="10.70" text-anchor="middle" fill="#2a2a2a" stroke="#2a2a2a" stroke-width="0.22" font-family="'Liberation Serif', serif">140(--)</text>
<text x="91.80" y="918.71" font-size="10.80" text-anchor="start" fill="#2a2a2a" stroke="#2a2a2a" stroke-width="0.22" font-family="'Liberation Serif', serif" letter-spacing="0.45">TD125-14G/4</text>
<text x="187.54" y="918.71" font-size="10.80" text-anchor="middle" fill="#2a2a2a" stroke="#2a2a2a" stroke-width="0.22" font-family="'Liberation Serif', serif" letter-spacing="0.45">200</text>
<text x="226.83" y="918.71" font-size="10.80" text-anchor="middle" fill="#2a2a2a" stroke="#2a2a2a" stroke-width="0.22" font-family="'Liberation Serif', serif" letter-spacing="0.45">257</text>
<text x="266.11" y="918.71" font-size="10.80" text-anchor="middle" fill="#2a2a2a" stroke="#2a2a2a" stroke-width="0.22" font-family="'Liberation Serif', serif" letter-spacing="0.45">190</text>
<text x="305.40" y="918.71" font-size="10.80" text-anchor="middle" fill="#2a2a2a" stroke="#2a2a2a" stroke-width="0.22" font-family="'Liberation Serif', serif" letter-spacing="0.45">198</text>
<text x="344.68" y="918.71" font-size="10.80" text-anchor="middle" fill="#2a2a2a" stroke="#2a2a2a" stroke-width="0.22" font-family="'Liberation Serif', serif" letter-spacing="0.45">162</text>
<text x="383.97" y="918.71" font-size="10.80" text-anchor="middle" fill="#2a2a2a" stroke="#2a2a2a" stroke-width="0.22" font-family="'Liberation Serif', serif" letter-spacing="0.45">230</text>
<text x="423.25" y="918.71" font-size="10.80" text-anchor="middle" fill="#2a2a2a" stroke="#2a2a2a" stroke-width="0.22" font-family="'Liberation Serif', serif" letter-spacing="0.45">160</text>
<text x="462.53" y="918.71" font-size="10.80" text-anchor="middle" fill="#2a2a2a" stroke="#2a2a2a" stroke-width="0.22" font-family="'Liberation Serif', serif" letter-spacing="0.45">229</text>
<text x="501.82" y="918.71" font-size="10.80" text-anchor="middle" fill="#2a2a2a" stroke="#2a2a2a" stroke-width="0.22" font-family="'Liberation Serif', serif" letter-spacing="1.6">--</text>
<text x="541.10" y="918.71" font-size="10.80" text-anchor="middle" fill="#2a2a2a" stroke="#2a2a2a" stroke-width="0.22" font-family="'Liberation Serif', serif" letter-spacing="0.45">772</text>
<text x="580.39" y="918.71" font-size="10.80" text-anchor="middle" fill="#2a2a2a" stroke="#2a2a2a" stroke-width="0.22" font-family="'Liberation Serif', serif" letter-spacing="1.6">--</text>
<text x="619.67" y="918.71" font-size="10.80" text-anchor="middle" fill="#2a2a2a" stroke="#2a2a2a" stroke-width="0.22" font-family="'Liberation Serif', serif" letter-spacing="0.45">620</text>
<text x="658.96" y="918.71" font-size="10.80" text-anchor="middle" fill="#2a2a2a" stroke="#2a2a2a" stroke-width="0.22" font-family="'Liberation Serif', serif" letter-spacing="0.45">310</text>
<text x="709.75" y="919.47" font-size="10.70" text-anchor="middle" fill="#2a2a2a" stroke="#2a2a2a" stroke-width="0.22" font-family="'Liberation Serif', serif">150(--)</text>
<text x="91.80" y="941.87" font-size="10.80" text-anchor="start" fill="#2a2a2a" stroke="#2a2a2a" stroke-width="0.22" font-family="'Liberation Serif', serif" letter-spacing="0.45">TD125-19G/4</text>
<text x="187.54" y="941.87" font-size="10.80" text-anchor="middle" fill="#2a2a2a" stroke="#2a2a2a" stroke-width="0.22" font-family="'Liberation Serif', serif" letter-spacing="0.45">350</text>
<text x="226.83" y="941.87" font-size="10.80" text-anchor="middle" fill="#2a2a2a" stroke="#2a2a2a" stroke-width="0.22" font-family="'Liberation Serif', serif" letter-spacing="0.45">314</text>
<text x="266.11" y="941.87" font-size="10.80" text-anchor="middle" fill="#2a2a2a" stroke="#2a2a2a" stroke-width="0.22" font-family="'Liberation Serif', serif" letter-spacing="0.45">261</text>
<text x="305.40" y="941.87" font-size="10.80" text-anchor="middle" fill="#2a2a2a" stroke="#2a2a2a" stroke-width="0.22" font-family="'Liberation Serif', serif" letter-spacing="0.45">213</text>
<text x="344.68" y="941.87" font-size="10.80" text-anchor="middle" fill="#2a2a2a" stroke="#2a2a2a" stroke-width="0.22" font-family="'Liberation Serif', serif" letter-spacing="0.45">178</text>
<text x="383.97" y="941.87" font-size="10.80" text-anchor="middle" fill="#2a2a2a" stroke="#2a2a2a" stroke-width="0.22" font-family="'Liberation Serif', serif" letter-spacing="0.45">230</text>
<text x="423.25" y="941.87" font-size="10.80" text-anchor="middle" fill="#2a2a2a" stroke="#2a2a2a" stroke-width="0.22" font-family="'Liberation Serif', serif" letter-spacing="0.45">160</text>
<text x="462.53" y="941.87" font-size="10.80" text-anchor="middle" fill="#2a2a2a" stroke="#2a2a2a" stroke-width="0.22" font-family="'Liberation Serif', serif" letter-spacing="0.45">301</text>
<text x="501.82" y="941.87" font-size="10.80" text-anchor="middle" fill="#2a2a2a" stroke="#2a2a2a" stroke-width="0.22" font-family="'Liberation Serif', serif" letter-spacing="0.45">401</text>
<text x="541.10" y="941.87" font-size="10.80" text-anchor="middle" fill="#2a2a2a" stroke="#2a2a2a" stroke-width="0.22" font-family="'Liberation Serif', serif" letter-spacing="0.45">961</text>
<text x="580.39" y="941.87" font-size="10.80" text-anchor="middle" fill="#2a2a2a" stroke="#2a2a2a" stroke-width="0.22" font-family="'Liberation Serif', serif" letter-spacing="0.45">1061</text>
<text x="619.67" y="941.87" font-size="10.80" text-anchor="middle" fill="#2a2a2a" stroke="#2a2a2a" stroke-width="0.22" font-family="'Liberation Serif', serif" letter-spacing="0.45">660</text>
<text x="658.96" y="941.87" font-size="10.80" text-anchor="middle" fill="#2a2a2a" stroke="#2a2a2a" stroke-width="0.22" font-family="'Liberation Serif', serif" letter-spacing="0.45">330</text>
<text x="709.75" y="942.64" font-size="10.70" text-anchor="middle" fill="#2a2a2a" stroke="#2a2a2a" stroke-width="0.22" font-family="'Liberation Serif', serif">255(268)</text>
<text x="91.80" y="965.03" font-size="10.80" text-anchor="start" fill="#2a2a2a" stroke="#2a2a2a" stroke-width="0.22" font-family="'Liberation Serif', serif" letter-spacing="0.45">TD125-22/4</text>
<text x="187.54" y="965.03" font-size="10.80" text-anchor="middle" fill="#2a2a2a" stroke="#2a2a2a" stroke-width="0.22" font-family="'Liberation Serif', serif" letter-spacing="0.45">350</text>
<text x="226.83" y="965.03" font-size="10.80" text-anchor="middle" fill="#2a2a2a" stroke="#2a2a2a" stroke-width="0.22" font-family="'Liberation Serif', serif" letter-spacing="0.45">314</text>
<text x="266.11" y="965.03" font-size="10.80" text-anchor="middle" fill="#2a2a2a" stroke="#2a2a2a" stroke-width="0.22" font-family="'Liberation Serif', serif" letter-spacing="0.45">261</text>
<text x="305.40" y="965.03" font-size="10.80" text-anchor="middle" fill="#2a2a2a" stroke="#2a2a2a" stroke-width="0.22" font-family="'Liberation Serif', serif" letter-spacing="0.45">236</text>
<text x="344.68" y="965.03" font-size="10.80" text-anchor="middle" fill="#2a2a2a" stroke="#2a2a2a" stroke-width="0.22" font-family="'Liberation Serif', serif" letter-spacing="0.45">208</text>
<text x="383.97" y="965.03" font-size="10.80" text-anchor="middle" fill="#2a2a2a" stroke="#2a2a2a" stroke-width="0.22" font-family="'Liberation Serif', serif" letter-spacing="0.45">230</text>
<text x="423.25" y="965.03" font-size="10.80" text-anchor="middle" fill="#2a2a2a" stroke="#2a2a2a" stroke-width="0.22" font-family="'Liberation Serif', serif" letter-spacing="0.45">215</text>
<text x="462.53" y="965.03" font-size="10.80" text-anchor="middle" fill="#2a2a2a" stroke="#2a2a2a" stroke-width="0.22" font-family="'Liberation Serif', serif" letter-spacing="0.45">292</text>
<text x="501.82" y="965.03" font-size="10.80" text-anchor="middle" fill="#2a2a2a" stroke="#2a2a2a" stroke-width="0.22" font-family="'Liberation Serif', serif" letter-spacing="0.45">395</text>
<text x="541.10" y="965.03" font-size="10.80" text-anchor="middle" fill="#2a2a2a" stroke="#2a2a2a" stroke-width="0.22" font-family="'Liberation Serif', serif" letter-spacing="0.45">1051</text>
<text x="580.39" y="965.03" font-size="10.80" text-anchor="middle" fill="#2a2a2a" stroke="#2a2a2a" stroke-width="0.22" font-family="'Liberation Serif', serif" letter-spacing="0.45">1154</text>
<text x="619.67" y="965.03" font-size="10.80" text-anchor="middle" fill="#2a2a2a" stroke="#2a2a2a" stroke-width="0.22" font-family="'Liberation Serif', serif" letter-spacing="0.45">800</text>
<text x="658.96" y="965.03" font-size="10.80" text-anchor="middle" fill="#2a2a2a" stroke="#2a2a2a" stroke-width="0.22" font-family="'Liberation Serif', serif" letter-spacing="0.45">400</text>
<text x="709.75" y="965.80" font-size="10.70" text-anchor="middle" fill="#2a2a2a" stroke="#2a2a2a" stroke-width="0.22" font-family="'Liberation Serif', serif">310(323)</text>
<text x="91.80" y="988.20" font-size="10.80" text-anchor="start" fill="#2a2a2a" stroke="#2a2a2a" stroke-width="0.22" font-family="'Liberation Serif', serif" letter-spacing="0.45">TD125-28/4</text>
<text x="187.54" y="988.20" font-size="10.80" text-anchor="middle" fill="#2a2a2a" stroke="#2a2a2a" stroke-width="0.22" font-family="'Liberation Serif', serif" letter-spacing="0.45">350</text>
<text x="226.83" y="988.20" font-size="10.80" text-anchor="middle" fill="#2a2a2a" stroke="#2a2a2a" stroke-width="0.22" font-family="'Liberation Serif', serif" letter-spacing="0.45">355</text>
<text x="266.11" y="988.20" font-size="10.80" text-anchor="middle" fill="#2a2a2a" stroke="#2a2a2a" stroke-width="0.22" font-family="'Liberation Serif', serif" letter-spacing="0.45">273</text>
<text x="305.40" y="988.20" font-size="10.80" text-anchor="middle" fill="#2a2a2a" stroke="#2a2a2a" stroke-width="0.22" font-family="'Liberation Serif', serif" letter-spacing="0.45">236</text>
<text x="344.68" y="988.20" font-size="10.80" text-anchor="middle" fill="#2a2a2a" stroke="#2a2a2a" stroke-width="0.22" font-family="'Liberation Serif', serif" letter-spacing="0.45">208</text>
<text x="383.97" y="988.20" font-size="10.80" text-anchor="middle" fill="#2a2a2a" stroke="#2a2a2a" stroke-width="0.22" font-family="'Liberation Serif', serif" letter-spacing="0.45">230</text>
<text x="423.25" y="988.20" font-size="10.80" text-anchor="middle" fill="#2a2a2a" stroke="#2a2a2a" stroke-width="0.22" font-family="'Liberation Serif', serif" letter-spacing="0.45">215</text>
<text x="462.53" y="988.20" font-size="10.80" text-anchor="middle" fill="#2a2a2a" stroke="#2a2a2a" stroke-width="0.22" font-family="'Liberation Serif', serif" letter-spacing="0.45">292</text>
<text x="501.82" y="988.20" font-size="10.80" text-anchor="middle" fill="#2a2a2a" stroke="#2a2a2a" stroke-width="0.22" font-family="'Liberation Serif', serif" letter-spacing="0.45">395</text>
<text x="541.10" y="988.20" font-size="10.80" text-anchor="middle" fill="#2a2a2a" stroke="#2a2a2a" stroke-width="0.22" font-family="'Liberation Serif', serif" letter-spacing="0.45">1084</text>
<text x="580.39" y="988.20" font-size="10.80" text-anchor="middle" fill="#2a2a2a" stroke="#2a2a2a" stroke-width="0.22" font-family="'Liberation Serif', serif" letter-spacing="0.45">1187</text>
<text x="619.67" y="988.20" font-size="10.80" text-anchor="middle" fill="#2a2a2a" stroke="#2a2a2a" stroke-width="0.22" font-family="'Liberation Serif', serif" letter-spacing="0.45">800</text>
<text x="658.96" y="988.20" font-size="10.80" text-anchor="middle" fill="#2a2a2a" stroke="#2a2a2a" stroke-width="0.22" font-family="'Liberation Serif', serif" letter-spacing="0.45">400</text>
<text x="709.75" y="988.96" font-size="10.70" text-anchor="middle" fill="#2a2a2a" stroke="#2a2a2a" stroke-width="0.22" font-family="'Liberation Serif', serif">340(356)</text>
<text x="91.80" y="1011.36" font-size="10.80" text-anchor="start" fill="#2a2a2a" stroke="#2a2a2a" stroke-width="0.22" font-family="'Liberation Serif', serif" letter-spacing="0.45">TD125-32/4</text>
<text x="187.54" y="1011.36" font-size="10.80" text-anchor="middle" fill="#2a2a2a" stroke="#2a2a2a" stroke-width="0.22" font-family="'Liberation Serif', serif" letter-spacing="0.45">350</text>
<text x="226.83" y="1011.36" font-size="10.80" text-anchor="middle" fill="#2a2a2a" stroke="#2a2a2a" stroke-width="0.22" font-family="'Liberation Serif', serif" letter-spacing="0.45">355</text>
<text x="266.11" y="1011.36" font-size="10.80" text-anchor="middle" fill="#2a2a2a" stroke="#2a2a2a" stroke-width="0.22" font-family="'Liberation Serif', serif" letter-spacing="0.45">273</text>
<text x="305.40" y="1011.36" font-size="10.80" text-anchor="middle" fill="#2a2a2a" stroke="#2a2a2a" stroke-width="0.22" font-family="'Liberation Serif', serif" letter-spacing="0.45">236</text>
<text x="344.68" y="1011.36" font-size="10.80" text-anchor="middle" fill="#2a2a2a" stroke="#2a2a2a" stroke-width="0.22" font-family="'Liberation Serif', serif" letter-spacing="0.45">208</text>
<text x="383.97" y="1011.36" font-size="10.80" text-anchor="middle" fill="#2a2a2a" stroke="#2a2a2a" stroke-width="0.22" font-family="'Liberation Serif', serif" letter-spacing="0.45">230</text>
<text x="423.25" y="1011.36" font-size="10.80" text-anchor="middle" fill="#2a2a2a" stroke="#2a2a2a" stroke-width="0.22" font-family="'Liberation Serif', serif" letter-spacing="0.45">215</text>
<text x="462.53" y="1011.36" font-size="10.80" text-anchor="middle" fill="#2a2a2a" stroke="#2a2a2a" stroke-width="0.22" font-family="'Liberation Serif', serif" letter-spacing="0.45">292</text>
<text x="501.82" y="1011.36" font-size="10.80" text-anchor="middle" fill="#2a2a2a" stroke="#2a2a2a" stroke-width="0.22" font-family="'Liberation Serif', serif" letter-spacing="0.45">395</text>
<text x="541.10" y="1011.36" font-size="10.80" text-anchor="middle" fill="#2a2a2a" stroke="#2a2a2a" stroke-width="0.22" font-family="'Liberation Serif', serif" letter-spacing="0.45">1122</text>
<text x="580.39" y="1011.36" font-size="10.80" text-anchor="middle" fill="#2a2a2a" stroke="#2a2a2a" stroke-width="0.22" font-family="'Liberation Serif', serif" letter-spacing="0.45">1125</text>
<text x="619.67" y="1011.36" font-size="10.80" text-anchor="middle" fill="#2a2a2a" stroke="#2a2a2a" stroke-width="0.22" font-family="'Liberation Serif', serif" letter-spacing="0.45">800</text>
<text x="658.96" y="1011.36" font-size="10.80" text-anchor="middle" fill="#2a2a2a" stroke="#2a2a2a" stroke-width="0.22" font-family="'Liberation Serif', serif" letter-spacing="0.45">400</text>
<text x="709.75" y="1012.12" font-size="10.70" text-anchor="middle" fill="#2a2a2a" stroke="#2a2a2a" stroke-width="0.22" font-family="'Liberation Serif', serif">361(376)</text>
<text x="91.80" y="1034.52" font-size="10.80" text-anchor="start" fill="#2a2a2a" stroke="#2a2a2a" stroke-width="0.22" font-family="'Liberation Serif', serif" letter-spacing="0.45">TD125-40G/4</text>
<text x="187.54" y="1034.52" font-size="10.80" text-anchor="middle" fill="#2a2a2a" stroke="#2a2a2a" stroke-width="0.22" font-family="'Liberation Serif', serif" letter-spacing="0.45">400</text>
<text x="226.83" y="1034.52" font-size="10.80" text-anchor="middle" fill="#2a2a2a" stroke="#2a2a2a" stroke-width="0.22" font-family="'Liberation Serif', serif" letter-spacing="0.45">397</text>
<text x="266.11" y="1034.52" font-size="10.80" text-anchor="middle" fill="#2a2a2a" stroke="#2a2a2a" stroke-width="0.22" font-family="'Liberation Serif', serif" letter-spacing="0.45">314</text>
<text x="305.40" y="1034.52" font-size="10.80" text-anchor="middle" fill="#2a2a2a" stroke="#2a2a2a" stroke-width="0.22" font-family="'Liberation Serif', serif" letter-spacing="0.45">261</text>
<text x="344.68" y="1034.52" font-size="10.80" text-anchor="middle" fill="#2a2a2a" stroke="#2a2a2a" stroke-width="0.22" font-family="'Liberation Serif', serif" letter-spacing="0.45">233</text>
<text x="383.97" y="1034.52" font-size="10.80" text-anchor="middle" fill="#2a2a2a" stroke="#2a2a2a" stroke-width="0.22" font-family="'Liberation Serif', serif" letter-spacing="0.45">230</text>
<text x="423.25" y="1034.52" font-size="10.80" text-anchor="middle" fill="#2a2a2a" stroke="#2a2a2a" stroke-width="0.22" font-family="'Liberation Serif', serif" letter-spacing="0.45">160</text>
<text x="462.53" y="1034.52" font-size="10.80" text-anchor="middle" fill="#2a2a2a" stroke="#2a2a2a" stroke-width="0.22" font-family="'Liberation Serif', serif" letter-spacing="0.45">298</text>
<text x="501.82" y="1034.52" font-size="10.80" text-anchor="middle" fill="#2a2a2a" stroke="#2a2a2a" stroke-width="0.22" font-family="'Liberation Serif', serif" letter-spacing="0.45">394</text>
<text x="541.10" y="1034.52" font-size="10.80" text-anchor="middle" fill="#2a2a2a" stroke="#2a2a2a" stroke-width="0.22" font-family="'Liberation Serif', serif" letter-spacing="0.45">1110</text>
<text x="580.39" y="1034.52" font-size="10.80" text-anchor="middle" fill="#2a2a2a" stroke="#2a2a2a" stroke-width="0.22" font-family="'Liberation Serif', serif" letter-spacing="0.45">1206</text>
<text x="619.67" y="1034.52" font-size="10.80" text-anchor="middle" fill="#2a2a2a" stroke="#2a2a2a" stroke-width="0.22" font-family="'Liberation Serif', serif" letter-spacing="0.45">800</text>
<text x="658.96" y="1034.52" font-size="10.80" text-anchor="middle" fill="#2a2a2a" stroke="#2a2a2a" stroke-width="0.22" font-family="'Liberation Serif', serif" letter-spacing="0.45">400</text>
<text x="709.75" y="1035.29" font-size="10.70" text-anchor="middle" fill="#2a2a2a" stroke="#2a2a2a" stroke-width="0.22" font-family="'Liberation Serif', serif">455(473)</text>
<text x="91.80" y="1057.68" font-size="10.80" text-anchor="start" fill="#2a2a2a" stroke="#2a2a2a" stroke-width="0.22" font-family="'Liberation Serif', serif" letter-spacing="0.45">TD125-48G/4</text>
<text x="187.54" y="1057.68" font-size="10.80" text-anchor="middle" fill="#2a2a2a" stroke="#2a2a2a" stroke-width="0.22" font-family="'Liberation Serif', serif" letter-spacing="0.45">400</text>
<text x="226.83" y="1057.68" font-size="10.80" text-anchor="middle" fill="#2a2a2a" stroke="#2a2a2a" stroke-width="0.22" font-family="'Liberation Serif', serif" letter-spacing="0.45">445</text>
<text x="266.11" y="1057.68" font-size="10.80" text-anchor="middle" fill="#2a2a2a" stroke="#2a2a2a" stroke-width="0.22" font-family="'Liberation Serif', serif" letter-spacing="0.45">334</text>
<text x="305.40" y="1057.68" font-size="10.80" text-anchor="middle" fill="#2a2a2a" stroke="#2a2a2a" stroke-width="0.22" font-family="'Liberation Serif', serif" letter-spacing="0.45">261</text>
<text x="344.68" y="1057.68" font-size="10.80" text-anchor="middle" fill="#2a2a2a" stroke="#2a2a2a" stroke-width="0.22" font-family="'Liberation Serif', serif" letter-spacing="0.45">233</text>
<text x="383.97" y="1057.68" font-size="10.80" text-anchor="middle" fill="#2a2a2a" stroke="#2a2a2a" stroke-width="0.22" font-family="'Liberation Serif', serif" letter-spacing="0.45">230</text>
<text x="423.25" y="1057.68" font-size="10.80" text-anchor="middle" fill="#2a2a2a" stroke="#2a2a2a" stroke-width="0.22" font-family="'Liberation Serif', serif" letter-spacing="0.45">160</text>
<text x="462.53" y="1057.68" font-size="10.80" text-anchor="middle" fill="#2a2a2a" stroke="#2a2a2a" stroke-width="0.22" font-family="'Liberation Serif', serif" letter-spacing="0.45">313</text>
<text x="501.82" y="1057.68" font-size="10.80" text-anchor="middle" fill="#2a2a2a" stroke="#2a2a2a" stroke-width="0.22" font-family="'Liberation Serif', serif" letter-spacing="0.45">440</text>
<text x="541.10" y="1057.68" font-size="10.80" text-anchor="middle" fill="#2a2a2a" stroke="#2a2a2a" stroke-width="0.22" font-family="'Liberation Serif', serif" letter-spacing="0.45">1167</text>
<text x="580.39" y="1057.68" font-size="10.80" text-anchor="middle" fill="#2a2a2a" stroke="#2a2a2a" stroke-width="0.22" font-family="'Liberation Serif', serif" letter-spacing="0.45">1294</text>
<text x="619.67" y="1057.68" font-size="10.80" text-anchor="middle" fill="#2a2a2a" stroke="#2a2a2a" stroke-width="0.22" font-family="'Liberation Serif', serif" letter-spacing="0.45">800</text>
<text x="658.96" y="1057.68" font-size="10.80" text-anchor="middle" fill="#2a2a2a" stroke="#2a2a2a" stroke-width="0.22" font-family="'Liberation Serif', serif" letter-spacing="0.45">400</text>
<text x="709.75" y="1058.45" font-size="10.70" text-anchor="middle" fill="#2a2a2a" stroke="#2a2a2a" stroke-width="0.22" font-family="'Liberation Serif', serif">492(521)</text>
<g font-family="'Liberation Sans', 'Noto Sans CJK SC', sans-serif" font-size="13" fill="#1c1c1c">
<text x="71.70" y="1088.70">注</text>
<text x="87.10" y="1088.70">:</text>
<text x="93.90" y="1088.70" letter-spacing="1.75">本表中带</text>
<text x="159.60" y="1088.70">“</text>
<text x="167.00" y="1091.00">*</text>
<text x="175.30" y="1088.70">”</text>
<text x="190.40" y="1088.70" letter-spacing="1.75">尺寸为便拆式管道泵尺寸</text>
<text x="352.00" y="1088.70">,</text>
<text x="360.10" y="1088.70" letter-spacing="1.65">括号中重量为便拆式管道泵的重量</text>
<text x="580.60" y="1088.70">,</text>
<text x="595.40" y="1088.70">“</text>
<text x="602.80" y="1088.00" textLength="15.4" lengthAdjust="spacingAndGlyphs">--</text>
<text x="619.60" y="1088.70">”</text>
<text x="634.10" y="1088.70" letter-spacing="1.75">表示无此结构</text>
<text x="721.70" y="1088.70">.</text>
<text x="93.80" y="1111.80" letter-spacing="1.75">隔爆电机尺寸有所变动</text>
<text x="242.60" y="1111.80">,</text>
<text x="249.80" y="1111.80" letter-spacing="1.75">详情请咨询本公司</text>
<text x="367.40" y="1111.80">。</text>
</g>
</svg>
</body></html>
